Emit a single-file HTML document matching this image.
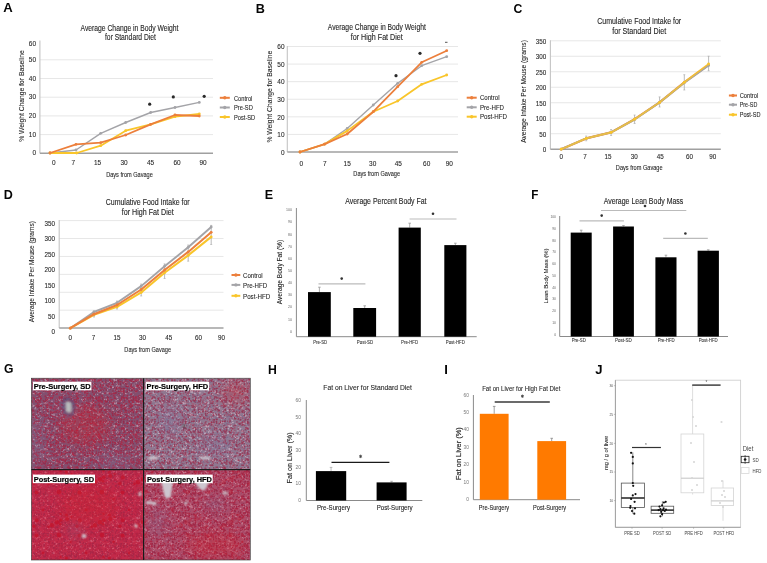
<!DOCTYPE html>
<html><head><meta charset="utf-8"><style>
html,body{margin:0;padding:0;background:#fff;width:767px;height:563px;overflow:hidden}
text{font-family:"Liberation Sans", sans-serif}
</style></head><body>
<svg width="767" height="563" viewBox="0 0 767 563" style="display:block;will-change:transform">
<rect width="767" height="563" fill="#fff"/>
<text transform="translate(3.27 12.40) scale(1.025 1)" font-size="12.79" font-weight="bold" fill="#050505">A</text>
<text x="129.50" y="30.60" font-size="8.86" text-anchor="middle" textLength="98.00" lengthAdjust="spacingAndGlyphs" fill="#262626" stroke="#262626" stroke-width="0.120">Average Change in Body Weight</text>
<text x="130.50" y="39.80" font-size="8.86" text-anchor="middle" textLength="51.00" lengthAdjust="spacingAndGlyphs" fill="#262626" stroke="#262626" stroke-width="0.120">for Standard Diet</text>
<line x1="39.90" y1="134.60" x2="213.00" y2="134.60" stroke="#e4e4e4" stroke-width="0.9"/>
<line x1="39.90" y1="115.90" x2="213.00" y2="115.90" stroke="#e4e4e4" stroke-width="0.9"/>
<line x1="39.90" y1="97.20" x2="213.00" y2="97.20" stroke="#e4e4e4" stroke-width="0.9"/>
<line x1="39.90" y1="78.50" x2="213.00" y2="78.50" stroke="#e4e4e4" stroke-width="0.9"/>
<line x1="39.90" y1="59.80" x2="213.00" y2="59.80" stroke="#e4e4e4" stroke-width="0.9"/>
<line x1="39.90" y1="40.60" x2="39.90" y2="153.30" stroke="#c4c4c4" stroke-width="1.1"/>
<line x1="39.90" y1="153.30" x2="213.00" y2="153.30" stroke="#a0a0a0" stroke-width="1.5"/>
<text x="36.00" y="155.49" font-size="7.42" text-anchor="end" textLength="3.60" lengthAdjust="spacingAndGlyphs" fill="#262626" stroke="#262626" stroke-width="0.096">0</text>
<text x="36.00" y="136.79" font-size="7.42" text-anchor="end" textLength="7.20" lengthAdjust="spacingAndGlyphs" fill="#262626" stroke="#262626" stroke-width="0.096">10</text>
<text x="36.00" y="118.09" font-size="7.42" text-anchor="end" textLength="7.20" lengthAdjust="spacingAndGlyphs" fill="#262626" stroke="#262626" stroke-width="0.096">20</text>
<text x="36.00" y="99.39" font-size="7.42" text-anchor="end" textLength="7.20" lengthAdjust="spacingAndGlyphs" fill="#262626" stroke="#262626" stroke-width="0.096">30</text>
<text x="36.00" y="80.69" font-size="7.42" text-anchor="end" textLength="7.20" lengthAdjust="spacingAndGlyphs" fill="#262626" stroke="#262626" stroke-width="0.096">40</text>
<text x="36.00" y="62.09" font-size="7.42" text-anchor="end" textLength="7.20" lengthAdjust="spacingAndGlyphs" fill="#262626" stroke="#262626" stroke-width="0.096">50</text>
<text x="36.00" y="45.89" font-size="7.42" text-anchor="end" textLength="7.20" lengthAdjust="spacingAndGlyphs" fill="#262626" stroke="#262626" stroke-width="0.096">60</text>
<text x="53.90" y="165.49" font-size="7.42" text-anchor="middle" textLength="3.60" lengthAdjust="spacingAndGlyphs" fill="#262626" stroke="#262626" stroke-width="0.096">0</text>
<text x="73.20" y="165.49" font-size="7.42" text-anchor="middle" textLength="3.60" lengthAdjust="spacingAndGlyphs" fill="#262626" stroke="#262626" stroke-width="0.096">7</text>
<text x="97.50" y="165.49" font-size="7.42" text-anchor="middle" textLength="7.20" lengthAdjust="spacingAndGlyphs" fill="#262626" stroke="#262626" stroke-width="0.096">15</text>
<text x="124.00" y="165.49" font-size="7.42" text-anchor="middle" textLength="7.20" lengthAdjust="spacingAndGlyphs" fill="#262626" stroke="#262626" stroke-width="0.096">30</text>
<text x="150.50" y="165.49" font-size="7.42" text-anchor="middle" textLength="7.20" lengthAdjust="spacingAndGlyphs" fill="#262626" stroke="#262626" stroke-width="0.096">45</text>
<text x="177.00" y="165.49" font-size="7.42" text-anchor="middle" textLength="7.20" lengthAdjust="spacingAndGlyphs" fill="#262626" stroke="#262626" stroke-width="0.096">60</text>
<text x="203.00" y="165.49" font-size="7.42" text-anchor="middle" textLength="7.20" lengthAdjust="spacingAndGlyphs" fill="#262626" stroke="#262626" stroke-width="0.096">90</text>
<polyline points="50.0,153.0 76.0,150.0 100.7,133.3 125.7,122.5 150.7,112.5 175.0,107.5 199.3,102.4" fill="none" stroke="#A4A4A8" stroke-width="1.4" stroke-linejoin="round"/>
<circle cx="50.0" cy="153.0" r="1.4" fill="#A4A4A8"/>
<circle cx="76.0" cy="150.0" r="1.4" fill="#A4A4A8"/>
<circle cx="100.7" cy="133.3" r="1.4" fill="#A4A4A8"/>
<circle cx="125.7" cy="122.5" r="1.4" fill="#A4A4A8"/>
<circle cx="150.7" cy="112.5" r="1.4" fill="#A4A4A8"/>
<circle cx="175.0" cy="107.5" r="1.4" fill="#A4A4A8"/>
<circle cx="199.3" cy="102.4" r="1.4" fill="#A4A4A8"/>
<polyline points="50.0,153.0 76.7,153.0 100.7,145.7 125.7,130.7 150.7,124.3 175.0,116.7 199.3,114.0" fill="none" stroke="#F9C52A" stroke-width="1.8" stroke-linejoin="round"/>
<circle cx="50.0" cy="153.0" r="1.4" fill="#F9C52A"/>
<circle cx="76.7" cy="153.0" r="1.4" fill="#F9C52A"/>
<circle cx="100.7" cy="145.7" r="1.4" fill="#F9C52A"/>
<circle cx="125.7" cy="130.7" r="1.4" fill="#F9C52A"/>
<circle cx="150.7" cy="124.3" r="1.4" fill="#F9C52A"/>
<circle cx="175.0" cy="116.7" r="1.4" fill="#F9C52A"/>
<circle cx="199.3" cy="114.0" r="1.4" fill="#F9C52A"/>
<polyline points="50.0,153.0 76.0,144.3 100.7,142.7 125.7,135.0 150.7,124.3 175.0,115.0 199.3,116.0" fill="none" stroke="#EC7F3C" stroke-width="1.8" stroke-linejoin="round"/>
<circle cx="50.0" cy="153.0" r="1.4" fill="#EC7F3C"/>
<circle cx="76.0" cy="144.3" r="1.4" fill="#EC7F3C"/>
<circle cx="100.7" cy="142.7" r="1.4" fill="#EC7F3C"/>
<circle cx="125.7" cy="135.0" r="1.4" fill="#EC7F3C"/>
<circle cx="150.7" cy="124.3" r="1.4" fill="#EC7F3C"/>
<circle cx="175.0" cy="115.0" r="1.4" fill="#EC7F3C"/>
<circle cx="199.3" cy="116.0" r="1.4" fill="#EC7F3C"/>
<circle cx="149.7" cy="104.2" r="1.6" fill="#2a2a2a"/>
<circle cx="173.3" cy="96.9" r="1.6" fill="#2a2a2a"/>
<circle cx="204.2" cy="96.3" r="1.6" fill="#2a2a2a"/>
<line x1="219.80" y1="97.80" x2="229.80" y2="97.80" stroke="#EC7F3C" stroke-width="2.0"/>
<circle cx="224.8" cy="97.8" r="1.7" fill="#EC7F3C"/>
<text x="234.00" y="100.54" font-size="7.83" textLength="18.40" lengthAdjust="spacingAndGlyphs" fill="#262626" stroke="#262626" stroke-width="0.096">Control</text>
<line x1="219.80" y1="107.50" x2="229.80" y2="107.50" stroke="#A4A4A8" stroke-width="2.0"/>
<circle cx="224.8" cy="107.5" r="1.7" fill="#A4A4A8"/>
<text x="234.00" y="110.24" font-size="7.83" textLength="18.80" lengthAdjust="spacingAndGlyphs" fill="#262626" stroke="#262626" stroke-width="0.096">Pre-SD</text>
<line x1="219.80" y1="117.00" x2="229.80" y2="117.00" stroke="#F9C52A" stroke-width="2.0"/>
<circle cx="224.8" cy="117" r="1.7" fill="#F9C52A"/>
<text x="234.00" y="119.74" font-size="7.83" textLength="21.20" lengthAdjust="spacingAndGlyphs" fill="#262626" stroke="#262626" stroke-width="0.096">Post-SD</text>
<text x="129.50" y="176.90" font-size="7.42" text-anchor="middle" textLength="46.70" lengthAdjust="spacingAndGlyphs" fill="#262626" stroke="#262626" stroke-width="0.096">Days from Gavage</text>
<text x="24.30" y="96.00" font-size="7.21" text-anchor="middle" textLength="91.70" lengthAdjust="spacingAndGlyphs" transform="rotate(-90 24.3 96)" fill="#262626" stroke="#262626" stroke-width="0.096">% Weight Change for Baseline</text>
<text transform="translate(255.75 12.50) scale(0.987 1)" font-size="12.79" font-weight="bold" fill="#050505">B</text>
<text x="376.80" y="29.70" font-size="8.86" text-anchor="middle" textLength="98.00" lengthAdjust="spacingAndGlyphs" fill="#262626" stroke="#262626" stroke-width="0.120">Average Change in Body Weight</text>
<text x="376.80" y="40.00" font-size="8.86" text-anchor="middle" textLength="52.00" lengthAdjust="spacingAndGlyphs" fill="#262626" stroke="#262626" stroke-width="0.120">for High Fat Diet</text>
<line x1="287.30" y1="134.42" x2="458.00" y2="134.42" stroke="#e4e4e4" stroke-width="0.9"/>
<line x1="287.30" y1="116.83" x2="458.00" y2="116.83" stroke="#e4e4e4" stroke-width="0.9"/>
<line x1="287.30" y1="99.25" x2="458.00" y2="99.25" stroke="#e4e4e4" stroke-width="0.9"/>
<line x1="287.30" y1="81.67" x2="458.00" y2="81.67" stroke="#e4e4e4" stroke-width="0.9"/>
<line x1="287.30" y1="64.08" x2="458.00" y2="64.08" stroke="#e4e4e4" stroke-width="0.9"/>
<line x1="287.30" y1="46.50" x2="458.00" y2="46.50" stroke="#e4e4e4" stroke-width="0.9"/>
<line x1="287.30" y1="46.00" x2="287.30" y2="152.00" stroke="#c4c4c4" stroke-width="1.1"/>
<line x1="287.30" y1="152.00" x2="458.00" y2="152.00" stroke="#a0a0a0" stroke-width="1.5"/>
<text x="284.50" y="154.89" font-size="7.42" text-anchor="end" textLength="3.60" lengthAdjust="spacingAndGlyphs" fill="#262626" stroke="#262626" stroke-width="0.096">0</text>
<text x="284.50" y="137.26" font-size="7.42" text-anchor="end" textLength="7.20" lengthAdjust="spacingAndGlyphs" fill="#262626" stroke="#262626" stroke-width="0.096">10</text>
<text x="284.50" y="119.63" font-size="7.42" text-anchor="end" textLength="7.20" lengthAdjust="spacingAndGlyphs" fill="#262626" stroke="#262626" stroke-width="0.096">20</text>
<text x="284.50" y="101.99" font-size="7.42" text-anchor="end" textLength="7.20" lengthAdjust="spacingAndGlyphs" fill="#262626" stroke="#262626" stroke-width="0.096">30</text>
<text x="284.50" y="84.36" font-size="7.42" text-anchor="end" textLength="7.20" lengthAdjust="spacingAndGlyphs" fill="#262626" stroke="#262626" stroke-width="0.096">40</text>
<text x="284.50" y="66.73" font-size="7.42" text-anchor="end" textLength="7.20" lengthAdjust="spacingAndGlyphs" fill="#262626" stroke="#262626" stroke-width="0.096">50</text>
<text x="284.50" y="49.09" font-size="7.42" text-anchor="end" textLength="7.20" lengthAdjust="spacingAndGlyphs" fill="#262626" stroke="#262626" stroke-width="0.096">60</text>
<text x="301.20" y="165.89" font-size="7.42" text-anchor="middle" textLength="3.60" lengthAdjust="spacingAndGlyphs" fill="#262626" stroke="#262626" stroke-width="0.096">0</text>
<text x="324.70" y="165.89" font-size="7.42" text-anchor="middle" textLength="3.60" lengthAdjust="spacingAndGlyphs" fill="#262626" stroke="#262626" stroke-width="0.096">7</text>
<text x="347.20" y="165.89" font-size="7.42" text-anchor="middle" textLength="7.20" lengthAdjust="spacingAndGlyphs" fill="#262626" stroke="#262626" stroke-width="0.096">15</text>
<text x="372.70" y="165.89" font-size="7.42" text-anchor="middle" textLength="7.20" lengthAdjust="spacingAndGlyphs" fill="#262626" stroke="#262626" stroke-width="0.096">30</text>
<text x="398.30" y="165.89" font-size="7.42" text-anchor="middle" textLength="7.20" lengthAdjust="spacingAndGlyphs" fill="#262626" stroke="#262626" stroke-width="0.096">45</text>
<text x="426.70" y="165.89" font-size="7.42" text-anchor="middle" textLength="7.20" lengthAdjust="spacingAndGlyphs" fill="#262626" stroke="#262626" stroke-width="0.096">60</text>
<text x="449.30" y="165.89" font-size="7.42" text-anchor="middle" textLength="7.20" lengthAdjust="spacingAndGlyphs" fill="#262626" stroke="#262626" stroke-width="0.096">90</text>
<polyline points="300.0,152.0 324.7,144.1 347.2,128.5 373.3,105.0 397.7,83.3 421.7,65.7 446.7,56.7" fill="none" stroke="#A4A4A8" stroke-width="1.4" stroke-linejoin="round"/>
<circle cx="300.0" cy="152.0" r="1.4" fill="#A4A4A8"/>
<circle cx="324.7" cy="144.1" r="1.4" fill="#A4A4A8"/>
<circle cx="347.2" cy="128.5" r="1.4" fill="#A4A4A8"/>
<circle cx="373.3" cy="105.0" r="1.4" fill="#A4A4A8"/>
<circle cx="397.7" cy="83.3" r="1.4" fill="#A4A4A8"/>
<circle cx="421.7" cy="65.7" r="1.4" fill="#A4A4A8"/>
<circle cx="446.7" cy="56.7" r="1.4" fill="#A4A4A8"/>
<polyline points="300.0,152.0 324.7,144.1 347.2,130.9 373.3,111.7 397.7,101.0 421.7,84.3 446.7,75.0" fill="none" stroke="#F9C52A" stroke-width="1.8" stroke-linejoin="round"/>
<circle cx="300.0" cy="152.0" r="1.4" fill="#F9C52A"/>
<circle cx="324.7" cy="144.1" r="1.4" fill="#F9C52A"/>
<circle cx="347.2" cy="130.9" r="1.4" fill="#F9C52A"/>
<circle cx="373.3" cy="111.7" r="1.4" fill="#F9C52A"/>
<circle cx="397.7" cy="101.0" r="1.4" fill="#F9C52A"/>
<circle cx="421.7" cy="84.3" r="1.4" fill="#F9C52A"/>
<circle cx="446.7" cy="75.0" r="1.4" fill="#F9C52A"/>
<polyline points="300.0,152.0 324.7,144.1 347.2,134.0 373.3,111.7 397.7,86.7 421.7,62.3 446.7,50.7" fill="none" stroke="#EC7F3C" stroke-width="1.8" stroke-linejoin="round"/>
<circle cx="300.0" cy="152.0" r="1.4" fill="#EC7F3C"/>
<circle cx="324.7" cy="144.1" r="1.4" fill="#EC7F3C"/>
<circle cx="347.2" cy="134.0" r="1.4" fill="#EC7F3C"/>
<circle cx="373.3" cy="111.7" r="1.4" fill="#EC7F3C"/>
<circle cx="397.7" cy="86.7" r="1.4" fill="#EC7F3C"/>
<circle cx="421.7" cy="62.3" r="1.4" fill="#EC7F3C"/>
<circle cx="446.7" cy="50.7" r="1.4" fill="#EC7F3C"/>
<circle cx="396" cy="75.7" r="1.6" fill="#2a2a2a"/>
<circle cx="420" cy="53.3" r="1.6" fill="#2a2a2a"/>
<line x1="466.70" y1="97.70" x2="476.70" y2="97.70" stroke="#EC7F3C" stroke-width="2.0"/>
<circle cx="471.7" cy="97.7" r="1.7" fill="#EC7F3C"/>
<text x="480.00" y="100.44" font-size="7.83" textLength="19.50" lengthAdjust="spacingAndGlyphs" fill="#262626" stroke="#262626" stroke-width="0.096">Control</text>
<line x1="466.70" y1="107.30" x2="476.70" y2="107.30" stroke="#A4A4A8" stroke-width="2.0"/>
<circle cx="471.7" cy="107.3" r="1.7" fill="#A4A4A8"/>
<text x="480.00" y="110.04" font-size="7.83" textLength="24.00" lengthAdjust="spacingAndGlyphs" fill="#262626" stroke="#262626" stroke-width="0.096">Pre-HFD</text>
<line x1="466.70" y1="116.70" x2="476.70" y2="116.70" stroke="#F9C52A" stroke-width="2.0"/>
<circle cx="471.7" cy="116.7" r="1.7" fill="#F9C52A"/>
<text x="480.00" y="119.44" font-size="7.83" textLength="27.00" lengthAdjust="spacingAndGlyphs" fill="#262626" stroke="#262626" stroke-width="0.096">Post-HFD</text>
<line x1="445.00" y1="42.30" x2="447.50" y2="42.30" stroke="#555" stroke-width="1"/>
<text x="376.70" y="176.40" font-size="7.42" text-anchor="middle" textLength="46.70" lengthAdjust="spacingAndGlyphs" fill="#262626" stroke="#262626" stroke-width="0.096">Days from Gavage</text>
<text x="272.40" y="96.70" font-size="7.21" text-anchor="middle" textLength="91.70" lengthAdjust="spacingAndGlyphs" transform="rotate(-90 272.4 96.7)" fill="#262626" stroke="#262626" stroke-width="0.096">% Weight Change for Baseline</text>
<text transform="translate(513.40 12.57) scale(0.918 1)" font-size="13.32" font-weight="bold" fill="#050505">C</text>
<text x="639.20" y="23.90" font-size="8.65" text-anchor="middle" textLength="84.00" lengthAdjust="spacingAndGlyphs" fill="#262626" stroke="#262626" stroke-width="0.120">Cumulative Food Intake for</text>
<text x="639.20" y="33.60" font-size="8.65" text-anchor="middle" textLength="54.00" lengthAdjust="spacingAndGlyphs" fill="#262626" stroke="#262626" stroke-width="0.120">for Standard Diet</text>
<line x1="550.40" y1="133.71" x2="720.80" y2="133.71" stroke="#e4e4e4" stroke-width="0.9"/>
<line x1="550.40" y1="118.23" x2="720.80" y2="118.23" stroke="#e4e4e4" stroke-width="0.9"/>
<line x1="550.40" y1="102.74" x2="720.80" y2="102.74" stroke="#e4e4e4" stroke-width="0.9"/>
<line x1="550.40" y1="87.26" x2="720.80" y2="87.26" stroke="#e4e4e4" stroke-width="0.9"/>
<line x1="550.40" y1="71.77" x2="720.80" y2="71.77" stroke="#e4e4e4" stroke-width="0.9"/>
<line x1="550.40" y1="56.29" x2="720.80" y2="56.29" stroke="#e4e4e4" stroke-width="0.9"/>
<line x1="550.40" y1="40.80" x2="720.80" y2="40.80" stroke="#e4e4e4" stroke-width="0.9"/>
<line x1="550.40" y1="40.30" x2="550.40" y2="149.20" stroke="#c4c4c4" stroke-width="1.1"/>
<line x1="550.40" y1="149.20" x2="720.80" y2="149.20" stroke="#a0a0a0" stroke-width="1.5"/>
<text x="546.30" y="152.22" font-size="7.21" text-anchor="end" textLength="3.50" lengthAdjust="spacingAndGlyphs" fill="#262626" stroke="#262626" stroke-width="0.096">0</text>
<text x="546.30" y="136.69" font-size="7.21" text-anchor="end" textLength="7.00" lengthAdjust="spacingAndGlyphs" fill="#262626" stroke="#262626" stroke-width="0.096">50</text>
<text x="546.30" y="121.16" font-size="7.21" text-anchor="end" textLength="10.50" lengthAdjust="spacingAndGlyphs" fill="#262626" stroke="#262626" stroke-width="0.096">100</text>
<text x="546.30" y="105.63" font-size="7.21" text-anchor="end" textLength="10.50" lengthAdjust="spacingAndGlyphs" fill="#262626" stroke="#262626" stroke-width="0.096">150</text>
<text x="546.30" y="90.11" font-size="7.21" text-anchor="end" textLength="10.50" lengthAdjust="spacingAndGlyphs" fill="#262626" stroke="#262626" stroke-width="0.096">200</text>
<text x="546.30" y="74.58" font-size="7.21" text-anchor="end" textLength="10.50" lengthAdjust="spacingAndGlyphs" fill="#262626" stroke="#262626" stroke-width="0.096">250</text>
<text x="546.30" y="59.05" font-size="7.21" text-anchor="end" textLength="10.50" lengthAdjust="spacingAndGlyphs" fill="#262626" stroke="#262626" stroke-width="0.096">300</text>
<text x="546.30" y="43.52" font-size="7.21" text-anchor="end" textLength="10.50" lengthAdjust="spacingAndGlyphs" fill="#262626" stroke="#262626" stroke-width="0.096">350</text>
<text x="561.20" y="159.12" font-size="7.21" text-anchor="middle" textLength="3.50" lengthAdjust="spacingAndGlyphs" fill="#262626" stroke="#262626" stroke-width="0.096">0</text>
<text x="585.00" y="159.12" font-size="7.21" text-anchor="middle" textLength="3.50" lengthAdjust="spacingAndGlyphs" fill="#262626" stroke="#262626" stroke-width="0.096">7</text>
<text x="608.00" y="159.12" font-size="7.21" text-anchor="middle" textLength="7.00" lengthAdjust="spacingAndGlyphs" fill="#262626" stroke="#262626" stroke-width="0.096">15</text>
<text x="634.20" y="159.12" font-size="7.21" text-anchor="middle" textLength="7.00" lengthAdjust="spacingAndGlyphs" fill="#262626" stroke="#262626" stroke-width="0.096">30</text>
<text x="660.30" y="159.12" font-size="7.21" text-anchor="middle" textLength="7.00" lengthAdjust="spacingAndGlyphs" fill="#262626" stroke="#262626" stroke-width="0.096">45</text>
<text x="689.60" y="159.12" font-size="7.21" text-anchor="middle" textLength="7.00" lengthAdjust="spacingAndGlyphs" fill="#262626" stroke="#262626" stroke-width="0.096">60</text>
<text x="712.70" y="159.12" font-size="7.21" text-anchor="middle" textLength="7.00" lengthAdjust="spacingAndGlyphs" fill="#262626" stroke="#262626" stroke-width="0.096">90</text>
<line x1="586.20" y1="136.00" x2="586.20" y2="140.80" stroke="#a8a8a8" stroke-width="0.8"/>
<line x1="585.20" y1="136.00" x2="587.20" y2="136.00" stroke="#a8a8a8" stroke-width="0.6"/>
<line x1="585.20" y1="140.80" x2="587.20" y2="140.80" stroke="#a8a8a8" stroke-width="0.6"/>
<line x1="611.10" y1="129.50" x2="611.10" y2="135.50" stroke="#a8a8a8" stroke-width="0.8"/>
<line x1="610.10" y1="129.50" x2="612.10" y2="129.50" stroke="#a8a8a8" stroke-width="0.6"/>
<line x1="610.10" y1="135.50" x2="612.10" y2="135.50" stroke="#a8a8a8" stroke-width="0.6"/>
<line x1="634.60" y1="115.00" x2="634.60" y2="123.50" stroke="#a8a8a8" stroke-width="0.8"/>
<line x1="633.60" y1="115.00" x2="635.60" y2="115.00" stroke="#a8a8a8" stroke-width="0.6"/>
<line x1="633.60" y1="123.50" x2="635.60" y2="123.50" stroke="#a8a8a8" stroke-width="0.6"/>
<line x1="659.60" y1="96.90" x2="659.60" y2="107.00" stroke="#a8a8a8" stroke-width="0.8"/>
<line x1="658.60" y1="96.90" x2="660.60" y2="96.90" stroke="#a8a8a8" stroke-width="0.6"/>
<line x1="658.60" y1="107.00" x2="660.60" y2="107.00" stroke="#a8a8a8" stroke-width="0.6"/>
<line x1="684.30" y1="74.70" x2="684.30" y2="90.00" stroke="#a8a8a8" stroke-width="0.8"/>
<line x1="683.30" y1="74.70" x2="685.30" y2="74.70" stroke="#a8a8a8" stroke-width="0.6"/>
<line x1="683.30" y1="90.00" x2="685.30" y2="90.00" stroke="#a8a8a8" stroke-width="0.6"/>
<line x1="708.60" y1="56.20" x2="708.60" y2="70.80" stroke="#a8a8a8" stroke-width="0.8"/>
<line x1="707.60" y1="56.20" x2="709.60" y2="56.20" stroke="#a8a8a8" stroke-width="0.6"/>
<line x1="707.60" y1="70.80" x2="709.60" y2="70.80" stroke="#a8a8a8" stroke-width="0.6"/>
<polyline points="561.2,149.2 586.2,138.4 611.1,132.4 634.6,119.2 659.6,102.4 684.3,82.3 708.6,64.9" fill="none" stroke="#EC7F3C" stroke-width="2.2" stroke-linejoin="round"/>
<circle cx="561.2" cy="149.2" r="1.4" fill="#EC7F3C"/>
<circle cx="586.2" cy="138.4" r="1.4" fill="#EC7F3C"/>
<circle cx="611.1" cy="132.4" r="1.4" fill="#EC7F3C"/>
<circle cx="634.6" cy="119.2" r="1.4" fill="#EC7F3C"/>
<circle cx="659.6" cy="102.4" r="1.4" fill="#EC7F3C"/>
<circle cx="684.3" cy="82.3" r="1.4" fill="#EC7F3C"/>
<circle cx="708.6" cy="64.9" r="1.4" fill="#EC7F3C"/>
<polyline points="561.2,149.2 586.2,138.4 611.1,132.4 634.6,119.5 659.6,102.4 684.3,82.8 708.6,65.5" fill="none" stroke="#A4A4A8" stroke-width="2.0" stroke-linejoin="round"/>
<circle cx="561.2" cy="149.2" r="1.4" fill="#A4A4A8"/>
<circle cx="586.2" cy="138.4" r="1.4" fill="#A4A4A8"/>
<circle cx="611.1" cy="132.4" r="1.4" fill="#A4A4A8"/>
<circle cx="634.6" cy="119.5" r="1.4" fill="#A4A4A8"/>
<circle cx="659.6" cy="102.4" r="1.4" fill="#A4A4A8"/>
<circle cx="684.3" cy="82.8" r="1.4" fill="#A4A4A8"/>
<circle cx="708.6" cy="65.5" r="1.4" fill="#A4A4A8"/>
<polyline points="561.2,149.2 586.2,138.4 611.1,132.4 634.6,119.2 659.6,102.4 684.3,82.3 708.6,63.9" fill="none" stroke="#F9C52A" stroke-width="1.7" stroke-linejoin="round" opacity="0.8"/>
<circle cx="561.2" cy="149.2" r="1.4" fill="#F9C52A"/>
<circle cx="586.2" cy="138.4" r="1.4" fill="#F9C52A"/>
<circle cx="611.1" cy="132.4" r="1.4" fill="#F9C52A"/>
<circle cx="634.6" cy="119.2" r="1.4" fill="#F9C52A"/>
<circle cx="659.6" cy="102.4" r="1.4" fill="#F9C52A"/>
<circle cx="684.3" cy="82.3" r="1.4" fill="#F9C52A"/>
<circle cx="708.6" cy="63.9" r="1.4" fill="#F9C52A"/>
<line x1="728.90" y1="95.50" x2="737.00" y2="95.50" stroke="#EC7F3C" stroke-width="2.0"/>
<circle cx="733.0" cy="95.5" r="1.7" fill="#EC7F3C"/>
<text x="739.70" y="98.16" font-size="7.62" textLength="18.50" lengthAdjust="spacingAndGlyphs" fill="#262626" stroke="#262626" stroke-width="0.096">Control</text>
<line x1="728.90" y1="104.70" x2="737.00" y2="104.70" stroke="#A4A4A8" stroke-width="2.0"/>
<circle cx="733.0" cy="104.7" r="1.7" fill="#A4A4A8"/>
<text x="739.70" y="107.36" font-size="7.62" textLength="17.60" lengthAdjust="spacingAndGlyphs" fill="#262626" stroke="#262626" stroke-width="0.096">Pre-SD</text>
<line x1="728.90" y1="114.70" x2="737.00" y2="114.70" stroke="#F9C52A" stroke-width="2.0"/>
<circle cx="733.0" cy="114.7" r="1.7" fill="#F9C52A"/>
<text x="739.70" y="117.36" font-size="7.62" textLength="20.80" lengthAdjust="spacingAndGlyphs" fill="#262626" stroke="#262626" stroke-width="0.096">Post-SD</text>
<text x="639.20" y="170.20" font-size="7.42" text-anchor="middle" textLength="46.70" lengthAdjust="spacingAndGlyphs" fill="#262626" stroke="#262626" stroke-width="0.096">Days from Gavage</text>
<text x="526.20" y="91.50" font-size="7.21" text-anchor="middle" textLength="102.70" lengthAdjust="spacingAndGlyphs" transform="rotate(-90 526.2 91.5)" fill="#262626" stroke="#262626" stroke-width="0.096">Average Intake Per Mouse (grams)</text>
<text transform="translate(3.66 198.50) scale(0.982 1)" font-size="12.79" font-weight="bold" fill="#050505">D</text>
<text x="147.70" y="205.30" font-size="8.65" text-anchor="middle" textLength="84.00" lengthAdjust="spacingAndGlyphs" fill="#262626" stroke="#262626" stroke-width="0.120">Cumulative Food Intake for</text>
<text x="147.70" y="214.70" font-size="8.65" text-anchor="middle" textLength="52.00" lengthAdjust="spacingAndGlyphs" fill="#262626" stroke="#262626" stroke-width="0.120">for High Fat Diet</text>
<line x1="59.20" y1="310.18" x2="223.50" y2="310.18" stroke="#e4e4e4" stroke-width="0.9"/>
<line x1="59.20" y1="292.27" x2="223.50" y2="292.27" stroke="#e4e4e4" stroke-width="0.9"/>
<line x1="59.20" y1="274.35" x2="223.50" y2="274.35" stroke="#e4e4e4" stroke-width="0.9"/>
<line x1="59.20" y1="256.43" x2="223.50" y2="256.43" stroke="#e4e4e4" stroke-width="0.9"/>
<line x1="59.20" y1="238.52" x2="223.50" y2="238.52" stroke="#e4e4e4" stroke-width="0.9"/>
<line x1="59.20" y1="220.60" x2="223.50" y2="220.60" stroke="#e4e4e4" stroke-width="0.9"/>
<line x1="59.20" y1="220.10" x2="59.20" y2="328.10" stroke="#c4c4c4" stroke-width="1.1"/>
<line x1="59.20" y1="328.10" x2="223.50" y2="328.10" stroke="#a0a0a0" stroke-width="1.5"/>
<text x="55.00" y="334.02" font-size="7.21" text-anchor="end" textLength="3.50" lengthAdjust="spacingAndGlyphs" fill="#262626" stroke="#262626" stroke-width="0.096">0</text>
<text x="55.00" y="318.53" font-size="7.21" text-anchor="end" textLength="7.00" lengthAdjust="spacingAndGlyphs" fill="#262626" stroke="#262626" stroke-width="0.096">50</text>
<text x="55.00" y="303.05" font-size="7.21" text-anchor="end" textLength="10.50" lengthAdjust="spacingAndGlyphs" fill="#262626" stroke="#262626" stroke-width="0.096">100</text>
<text x="55.00" y="287.56" font-size="7.21" text-anchor="end" textLength="10.50" lengthAdjust="spacingAndGlyphs" fill="#262626" stroke="#262626" stroke-width="0.096">150</text>
<text x="55.00" y="272.08" font-size="7.21" text-anchor="end" textLength="10.50" lengthAdjust="spacingAndGlyphs" fill="#262626" stroke="#262626" stroke-width="0.096">200</text>
<text x="55.00" y="256.59" font-size="7.21" text-anchor="end" textLength="10.50" lengthAdjust="spacingAndGlyphs" fill="#262626" stroke="#262626" stroke-width="0.096">250</text>
<text x="55.00" y="241.11" font-size="7.21" text-anchor="end" textLength="10.50" lengthAdjust="spacingAndGlyphs" fill="#262626" stroke="#262626" stroke-width="0.096">300</text>
<text x="55.00" y="225.62" font-size="7.21" text-anchor="end" textLength="10.50" lengthAdjust="spacingAndGlyphs" fill="#262626" stroke="#262626" stroke-width="0.096">350</text>
<text x="70.30" y="339.92" font-size="7.21" text-anchor="middle" textLength="3.50" lengthAdjust="spacingAndGlyphs" fill="#262626" stroke="#262626" stroke-width="0.096">0</text>
<text x="93.40" y="339.92" font-size="7.21" text-anchor="middle" textLength="3.50" lengthAdjust="spacingAndGlyphs" fill="#262626" stroke="#262626" stroke-width="0.096">7</text>
<text x="117.00" y="339.92" font-size="7.21" text-anchor="middle" textLength="7.00" lengthAdjust="spacingAndGlyphs" fill="#262626" stroke="#262626" stroke-width="0.096">15</text>
<text x="142.50" y="339.92" font-size="7.21" text-anchor="middle" textLength="7.00" lengthAdjust="spacingAndGlyphs" fill="#262626" stroke="#262626" stroke-width="0.096">30</text>
<text x="168.80" y="339.92" font-size="7.21" text-anchor="middle" textLength="7.00" lengthAdjust="spacingAndGlyphs" fill="#262626" stroke="#262626" stroke-width="0.096">45</text>
<text x="198.50" y="339.92" font-size="7.21" text-anchor="middle" textLength="7.00" lengthAdjust="spacingAndGlyphs" fill="#262626" stroke="#262626" stroke-width="0.096">60</text>
<text x="221.60" y="339.92" font-size="7.21" text-anchor="middle" textLength="7.00" lengthAdjust="spacingAndGlyphs" fill="#262626" stroke="#262626" stroke-width="0.096">90</text>
<line x1="94.00" y1="311.00" x2="94.00" y2="317.00" stroke="#a8a8a8" stroke-width="0.8"/>
<line x1="93.00" y1="311.00" x2="95.00" y2="311.00" stroke="#a8a8a8" stroke-width="0.6"/>
<line x1="93.00" y1="317.00" x2="95.00" y2="317.00" stroke="#a8a8a8" stroke-width="0.6"/>
<line x1="117.00" y1="301.00" x2="117.00" y2="309.00" stroke="#a8a8a8" stroke-width="0.8"/>
<line x1="116.00" y1="301.00" x2="118.00" y2="301.00" stroke="#a8a8a8" stroke-width="0.6"/>
<line x1="116.00" y1="309.00" x2="118.00" y2="309.00" stroke="#a8a8a8" stroke-width="0.6"/>
<line x1="141.20" y1="284.00" x2="141.20" y2="296.00" stroke="#a8a8a8" stroke-width="0.8"/>
<line x1="140.20" y1="284.00" x2="142.20" y2="284.00" stroke="#a8a8a8" stroke-width="0.6"/>
<line x1="140.20" y1="296.00" x2="142.20" y2="296.00" stroke="#a8a8a8" stroke-width="0.6"/>
<line x1="164.60" y1="263.90" x2="164.60" y2="278.50" stroke="#a8a8a8" stroke-width="0.8"/>
<line x1="163.60" y1="263.90" x2="165.60" y2="263.90" stroke="#a8a8a8" stroke-width="0.6"/>
<line x1="163.60" y1="278.50" x2="165.60" y2="278.50" stroke="#a8a8a8" stroke-width="0.6"/>
<line x1="188.20" y1="245.00" x2="188.20" y2="261.20" stroke="#a8a8a8" stroke-width="0.8"/>
<line x1="187.20" y1="245.00" x2="189.20" y2="245.00" stroke="#a8a8a8" stroke-width="0.6"/>
<line x1="187.20" y1="261.20" x2="189.20" y2="261.20" stroke="#a8a8a8" stroke-width="0.6"/>
<line x1="211.20" y1="225.40" x2="211.20" y2="244.50" stroke="#a8a8a8" stroke-width="0.8"/>
<line x1="210.20" y1="225.40" x2="212.20" y2="225.40" stroke="#a8a8a8" stroke-width="0.6"/>
<line x1="210.20" y1="244.50" x2="212.20" y2="244.50" stroke="#a8a8a8" stroke-width="0.6"/>
<polyline points="70.3,328.2 93.9,312.0 117.0,302.8 141.2,286.1 164.6,266.2 188.2,247.3 211.2,227.0" fill="none" stroke="#A4A4A8" stroke-width="1.9" stroke-linejoin="round"/>
<circle cx="70.3" cy="328.2" r="1.4" fill="#A4A4A8"/>
<circle cx="93.9" cy="312.0" r="1.4" fill="#A4A4A8"/>
<circle cx="117.0" cy="302.8" r="1.4" fill="#A4A4A8"/>
<circle cx="141.2" cy="286.1" r="1.4" fill="#A4A4A8"/>
<circle cx="164.6" cy="266.2" r="1.4" fill="#A4A4A8"/>
<circle cx="188.2" cy="247.3" r="1.4" fill="#A4A4A8"/>
<circle cx="211.2" cy="227.0" r="1.4" fill="#A4A4A8"/>
<polyline points="70.3,328.2 93.9,314.8 117.0,306.9 141.2,292.4 164.6,272.7 188.2,255.4 211.2,236.9" fill="none" stroke="#F9C52A" stroke-width="2.0" stroke-linejoin="round"/>
<circle cx="70.3" cy="328.2" r="1.4" fill="#F9C52A"/>
<circle cx="93.9" cy="314.8" r="1.4" fill="#F9C52A"/>
<circle cx="117.0" cy="306.9" r="1.4" fill="#F9C52A"/>
<circle cx="141.2" cy="292.4" r="1.4" fill="#F9C52A"/>
<circle cx="164.6" cy="272.7" r="1.4" fill="#F9C52A"/>
<circle cx="188.2" cy="255.4" r="1.4" fill="#F9C52A"/>
<circle cx="211.2" cy="236.9" r="1.4" fill="#F9C52A"/>
<polyline points="70.3,328.2 93.9,314.2 117.0,305.0 141.2,289.5 164.6,270.0 188.2,251.9 211.2,232.3" fill="none" stroke="#EC7F3C" stroke-width="2.0" stroke-linejoin="round"/>
<circle cx="70.3" cy="328.2" r="1.4" fill="#EC7F3C"/>
<circle cx="93.9" cy="314.2" r="1.4" fill="#EC7F3C"/>
<circle cx="117.0" cy="305.0" r="1.4" fill="#EC7F3C"/>
<circle cx="141.2" cy="289.5" r="1.4" fill="#EC7F3C"/>
<circle cx="164.6" cy="270.0" r="1.4" fill="#EC7F3C"/>
<circle cx="188.2" cy="251.9" r="1.4" fill="#EC7F3C"/>
<circle cx="211.2" cy="232.3" r="1.4" fill="#EC7F3C"/>
<line x1="231.50" y1="275.00" x2="240.30" y2="275.00" stroke="#EC7F3C" stroke-width="2.0"/>
<circle cx="235.9" cy="275" r="1.7" fill="#EC7F3C"/>
<text x="243.10" y="277.74" font-size="7.83" textLength="19.50" lengthAdjust="spacingAndGlyphs" fill="#262626" stroke="#262626" stroke-width="0.096">Control</text>
<line x1="231.50" y1="284.90" x2="240.30" y2="284.90" stroke="#A4A4A8" stroke-width="2.0"/>
<circle cx="235.9" cy="284.9" r="1.7" fill="#A4A4A8"/>
<text x="243.10" y="287.64" font-size="7.83" textLength="24.00" lengthAdjust="spacingAndGlyphs" fill="#262626" stroke="#262626" stroke-width="0.096">Pre-HFD</text>
<line x1="231.50" y1="295.80" x2="240.30" y2="295.80" stroke="#F9C52A" stroke-width="2.0"/>
<circle cx="235.9" cy="295.8" r="1.7" fill="#F9C52A"/>
<text x="243.10" y="298.54" font-size="7.83" textLength="27.00" lengthAdjust="spacingAndGlyphs" fill="#262626" stroke="#262626" stroke-width="0.096">Post-HFD</text>
<text x="147.70" y="351.50" font-size="7.42" text-anchor="middle" textLength="46.70" lengthAdjust="spacingAndGlyphs" fill="#262626" stroke="#262626" stroke-width="0.096">Days from Gavage</text>
<text x="34.00" y="271.70" font-size="7.21" text-anchor="middle" textLength="101.00" lengthAdjust="spacingAndGlyphs" transform="rotate(-90 34.0 271.7)" fill="#262626" stroke="#262626" stroke-width="0.096">Average Intake Per Mouse (grams)</text>
<text transform="translate(264.66 198.50) scale(0.954 1)" font-size="13.08" font-weight="bold" fill="#050505">E</text>
<text x="385.90" y="203.70" font-size="8.86" text-anchor="middle" textLength="81.30" lengthAdjust="spacingAndGlyphs" fill="#262626" stroke="#262626" stroke-width="0.120">Average Percent Body Fat</text>
<line x1="296.40" y1="208.00" x2="296.40" y2="336.70" stroke="#8a8a8a" stroke-width="1.0"/>
<line x1="296.40" y1="336.70" x2="476.70" y2="336.70" stroke="#8a8a8a" stroke-width="1.0"/>
<text x="292.00" y="332.80" font-size="3.71" text-anchor="end" textLength="1.98" lengthAdjust="spacingAndGlyphs" fill="#666">0</text>
<text x="292.00" y="320.64" font-size="3.71" text-anchor="end" textLength="3.96" lengthAdjust="spacingAndGlyphs" fill="#666">10</text>
<text x="292.00" y="308.48" font-size="3.71" text-anchor="end" textLength="3.96" lengthAdjust="spacingAndGlyphs" fill="#666">20</text>
<text x="292.00" y="296.32" font-size="3.71" text-anchor="end" textLength="3.96" lengthAdjust="spacingAndGlyphs" fill="#666">30</text>
<text x="292.00" y="284.16" font-size="3.71" text-anchor="end" textLength="3.96" lengthAdjust="spacingAndGlyphs" fill="#666">40</text>
<text x="292.00" y="272.00" font-size="3.71" text-anchor="end" textLength="3.96" lengthAdjust="spacingAndGlyphs" fill="#666">50</text>
<text x="292.00" y="259.84" font-size="3.71" text-anchor="end" textLength="3.96" lengthAdjust="spacingAndGlyphs" fill="#666">60</text>
<text x="292.00" y="247.68" font-size="3.71" text-anchor="end" textLength="3.96" lengthAdjust="spacingAndGlyphs" fill="#666">70</text>
<text x="292.00" y="235.52" font-size="3.71" text-anchor="end" textLength="3.96" lengthAdjust="spacingAndGlyphs" fill="#666">80</text>
<text x="292.00" y="223.36" font-size="3.71" text-anchor="end" textLength="3.96" lengthAdjust="spacingAndGlyphs" fill="#666">90</text>
<text x="292.00" y="211.20" font-size="3.71" text-anchor="end" textLength="5.94" lengthAdjust="spacingAndGlyphs" fill="#666">100</text>
<line x1="319.40" y1="287.20" x2="319.40" y2="292.10" stroke="#999" stroke-width="0.8"/>
<line x1="318.10" y1="287.20" x2="320.70" y2="287.20" stroke="#999" stroke-width="0.8"/>
<rect x="308.00" y="292.10" width="22.80" height="44.60" fill="#000"/>
<text x="320.10" y="344.33" font-size="4.94" text-anchor="middle" textLength="13.80" lengthAdjust="spacingAndGlyphs" fill="#333" stroke="#333" stroke-width="0.080">Pre-SD</text>
<line x1="364.70" y1="305.80" x2="364.70" y2="308.00" stroke="#999" stroke-width="0.8"/>
<line x1="363.40" y1="305.80" x2="366.00" y2="305.80" stroke="#999" stroke-width="0.8"/>
<rect x="353.30" y="308.00" width="22.80" height="28.70" fill="#000"/>
<text x="365.00" y="344.33" font-size="4.94" text-anchor="middle" textLength="16.30" lengthAdjust="spacingAndGlyphs" fill="#333" stroke="#333" stroke-width="0.080">Post-SD</text>
<line x1="409.70" y1="223.20" x2="409.70" y2="227.60" stroke="#999" stroke-width="0.8"/>
<line x1="408.40" y1="223.20" x2="411.00" y2="223.20" stroke="#999" stroke-width="0.8"/>
<rect x="398.60" y="227.60" width="22.20" height="109.10" fill="#000"/>
<text x="409.60" y="344.33" font-size="4.94" text-anchor="middle" textLength="17.00" lengthAdjust="spacingAndGlyphs" fill="#333" stroke="#333" stroke-width="0.080">Pre-HFD</text>
<line x1="455.35" y1="243.20" x2="455.35" y2="245.10" stroke="#999" stroke-width="0.8"/>
<line x1="454.05" y1="243.20" x2="456.65" y2="243.20" stroke="#999" stroke-width="0.8"/>
<rect x="444.30" y="245.10" width="22.10" height="91.60" fill="#000"/>
<text x="455.30" y="344.33" font-size="4.94" text-anchor="middle" textLength="19.00" lengthAdjust="spacingAndGlyphs" fill="#333" stroke="#333" stroke-width="0.080">Post-HFD</text>
<line x1="318.50" y1="283.90" x2="365.40" y2="283.90" stroke="#bbb" stroke-width="1.2"/>
<circle cx="341.7" cy="278.6" r="1.3" fill="#333"/>
<line x1="409.60" y1="219.00" x2="456.50" y2="219.00" stroke="#bbb" stroke-width="1.2"/>
<circle cx="433" cy="213.8" r="1.3" fill="#333"/>
<text x="282.00" y="272.10" font-size="7.0" text-anchor="middle" textLength="64.40" lengthAdjust="spacingAndGlyphs" transform="rotate(-90 282.0 272.1)" fill="#262626" stroke="#262626" stroke-width="0.096">Average Body Fat (%)</text>
<text transform="translate(531.32 198.50) scale(0.890 1)" font-size="13.08" font-weight="bold" fill="#050505">F</text>
<text x="643.50" y="204.30" font-size="8.86" text-anchor="middle" textLength="79.70" lengthAdjust="spacingAndGlyphs" fill="#262626" stroke="#262626" stroke-width="0.120">Average Lean Body Mass</text>
<line x1="559.70" y1="216.00" x2="559.70" y2="336.50" stroke="#8a8a8a" stroke-width="1.0"/>
<line x1="559.70" y1="336.50" x2="728.00" y2="336.50" stroke="#8a8a8a" stroke-width="1.0"/>
<text x="556.00" y="335.72" font-size="3.5" text-anchor="end" textLength="1.87" lengthAdjust="spacingAndGlyphs" fill="#666">0</text>
<text x="556.00" y="323.97" font-size="3.5" text-anchor="end" textLength="3.74" lengthAdjust="spacingAndGlyphs" fill="#666">10</text>
<text x="556.00" y="312.22" font-size="3.5" text-anchor="end" textLength="3.74" lengthAdjust="spacingAndGlyphs" fill="#666">20</text>
<text x="556.00" y="300.47" font-size="3.5" text-anchor="end" textLength="3.74" lengthAdjust="spacingAndGlyphs" fill="#666">30</text>
<text x="556.00" y="288.72" font-size="3.5" text-anchor="end" textLength="3.74" lengthAdjust="spacingAndGlyphs" fill="#666">40</text>
<text x="556.00" y="276.97" font-size="3.5" text-anchor="end" textLength="3.74" lengthAdjust="spacingAndGlyphs" fill="#666">50</text>
<text x="556.00" y="265.22" font-size="3.5" text-anchor="end" textLength="3.74" lengthAdjust="spacingAndGlyphs" fill="#666">60</text>
<text x="556.00" y="253.47" font-size="3.5" text-anchor="end" textLength="3.74" lengthAdjust="spacingAndGlyphs" fill="#666">70</text>
<text x="556.00" y="241.72" font-size="3.5" text-anchor="end" textLength="3.74" lengthAdjust="spacingAndGlyphs" fill="#666">80</text>
<text x="556.00" y="229.97" font-size="3.5" text-anchor="end" textLength="3.74" lengthAdjust="spacingAndGlyphs" fill="#666">90</text>
<text x="556.00" y="218.22" font-size="3.5" text-anchor="end" textLength="5.61" lengthAdjust="spacingAndGlyphs" fill="#666">100</text>
<line x1="581.20" y1="230.20" x2="581.20" y2="232.60" stroke="#999" stroke-width="0.8"/>
<line x1="579.90" y1="230.20" x2="582.50" y2="230.20" stroke="#999" stroke-width="0.8"/>
<rect x="570.70" y="232.60" width="21.00" height="103.90" fill="#000"/>
<text x="578.80" y="342.33" font-size="4.94" text-anchor="middle" textLength="14.20" lengthAdjust="spacingAndGlyphs" fill="#333" stroke="#333" stroke-width="0.080">Pre-SD</text>
<line x1="623.50" y1="225.50" x2="623.50" y2="226.50" stroke="#999" stroke-width="0.8"/>
<line x1="622.20" y1="225.50" x2="624.80" y2="225.50" stroke="#999" stroke-width="0.8"/>
<rect x="613.10" y="226.50" width="20.80" height="110.00" fill="#000"/>
<text x="623.30" y="342.33" font-size="4.94" text-anchor="middle" textLength="16.70" lengthAdjust="spacingAndGlyphs" fill="#333" stroke="#333" stroke-width="0.080">Post-SD</text>
<line x1="665.95" y1="255.20" x2="665.95" y2="257.30" stroke="#999" stroke-width="0.8"/>
<line x1="664.65" y1="255.20" x2="667.25" y2="255.20" stroke="#999" stroke-width="0.8"/>
<rect x="655.40" y="257.30" width="21.10" height="79.20" fill="#000"/>
<text x="666.20" y="342.33" font-size="4.94" text-anchor="middle" textLength="17.00" lengthAdjust="spacingAndGlyphs" fill="#333" stroke="#333" stroke-width="0.080">Pre-HFD</text>
<line x1="708.25" y1="249.80" x2="708.25" y2="250.70" stroke="#999" stroke-width="0.8"/>
<line x1="706.95" y1="249.80" x2="709.55" y2="249.80" stroke="#999" stroke-width="0.8"/>
<rect x="697.60" y="250.70" width="21.30" height="85.80" fill="#000"/>
<text x="708.20" y="342.33" font-size="4.94" text-anchor="middle" textLength="19.00" lengthAdjust="spacingAndGlyphs" fill="#333" stroke="#333" stroke-width="0.080">Post-HFD</text>
<line x1="579.50" y1="220.90" x2="623.90" y2="220.90" stroke="#bbb" stroke-width="1.2"/>
<circle cx="601.7" cy="215.6" r="1.3" fill="#333"/>
<line x1="601.00" y1="210.50" x2="686.30" y2="210.50" stroke="#bbb" stroke-width="1.2"/>
<circle cx="645" cy="206" r="1.3" fill="#333"/>
<line x1="663.20" y1="238.40" x2="707.80" y2="238.40" stroke="#bbb" stroke-width="1.2"/>
<circle cx="685.4" cy="233.5" r="1.3" fill="#333"/>
<text x="547.80" y="276.00" font-size="6.08" text-anchor="middle" textLength="55.20" lengthAdjust="spacingAndGlyphs" transform="rotate(-90 547.8 276)" fill="#262626" stroke="#262626" stroke-width="0.080">Lean Body Mass (%)</text>
<text transform="translate(4.00 373.37) scale(0.942 1)" font-size="12.89" font-weight="bold" fill="#050505">G</text>
<defs><pattern id="pR1" patternUnits="userSpaceOnUse" width="31" height="31"><g fill="#922c4c"><circle cx="19.8" cy="0.8" r="0.6"/><circle cx="6.9" cy="22.8" r="0.8"/><circle cx="27.7" cy="2.7" r="0.7"/><circle cx="0.9" cy="6.8" r="0.7"/><circle cx="0.8" cy="6.2" r="0.8"/><circle cx="16.9" cy="6.8" r="0.8"/><circle cx="25.1" cy="0.2" r="0.9"/><circle cx="25.1" cy="31.2" r="0.9"/><circle cx="21.6" cy="10.5" r="0.6"/><circle cx="29.7" cy="10.4" r="0.5"/><circle cx="3.0" cy="26.3" r="0.8"/><circle cx="25.0" cy="22.6" r="0.7"/><circle cx="30.2" cy="11.7" r="0.7"/><circle cx="25.7" cy="19.2" r="0.9"/><circle cx="17.9" cy="21.8" r="0.5"/><circle cx="7.1" cy="9.0" r="0.5"/><circle cx="7.2" cy="3.1" r="0.6"/><circle cx="19.7" cy="11.3" r="0.7"/><circle cx="6.5" cy="8.3" r="0.9"/><circle cx="20.1" cy="18.9" r="0.6"/><circle cx="22.6" cy="5.1" r="0.7"/><circle cx="-0.3" cy="19.8" r="0.8"/><circle cx="30.7" cy="19.8" r="0.8"/><circle cx="21.2" cy="26.1" r="0.8"/><circle cx="7.1" cy="1.0" r="0.6"/><circle cx="8.3" cy="6.5" r="0.9"/><circle cx="27.2" cy="9.8" r="0.8"/><circle cx="12.3" cy="28.4" r="0.7"/><circle cx="8.2" cy="7.6" r="0.8"/><circle cx="8.1" cy="18.1" r="0.9"/><circle cx="12.4" cy="6.8" r="0.9"/><circle cx="15.8" cy="2.8" r="0.5"/><circle cx="3.4" cy="19.5" r="0.9"/><circle cx="13.1" cy="2.0" r="0.7"/><circle cx="-0.1" cy="16.4" r="0.9"/><circle cx="30.9" cy="16.4" r="0.9"/><circle cx="26.7" cy="0.4" r="0.8"/><circle cx="26.7" cy="31.4" r="0.8"/><circle cx="21.1" cy="16.6" r="0.6"/><circle cx="19.9" cy="3.5" r="0.7"/><circle cx="14.1" cy="29.6" r="0.9"/><circle cx="8.2" cy="15.5" r="0.6"/><circle cx="28.3" cy="27.0" r="0.6"/><circle cx="19.8" cy="18.9" r="0.6"/><circle cx="23.6" cy="16.7" r="0.9"/><circle cx="16.4" cy="0.0" r="0.6"/><circle cx="16.4" cy="31.0" r="0.6"/><circle cx="0.6" cy="28.8" r="0.9"/><circle cx="31.6" cy="28.8" r="0.9"/><circle cx="25.8" cy="9.5" r="0.5"/><circle cx="27.2" cy="29.4" r="0.5"/><circle cx="15.1" cy="2.1" r="0.8"/><circle cx="23.7" cy="4.0" r="0.7"/><circle cx="17.0" cy="8.2" r="0.9"/><circle cx="13.1" cy="6.6" r="0.7"/><circle cx="22.6" cy="6.2" r="0.6"/><circle cx="-0.2" cy="20.1" r="0.7"/><circle cx="30.8" cy="20.1" r="0.7"/><circle cx="16.0" cy="3.8" r="0.6"/><circle cx="10.5" cy="18.2" r="0.6"/><circle cx="6.8" cy="2.2" r="0.8"/><circle cx="7.1" cy="28.1" r="0.9"/><circle cx="2.2" cy="7.4" r="0.8"/><circle cx="6.6" cy="4.1" r="0.9"/><circle cx="17.7" cy="14.7" r="0.9"/><circle cx="25.0" cy="5.9" r="0.5"/><circle cx="13.4" cy="13.1" r="0.7"/><circle cx="22.6" cy="20.9" r="0.9"/><circle cx="3.1" cy="12.5" r="0.7"/><circle cx="26.7" cy="7.7" r="0.6"/><circle cx="13.9" cy="13.1" r="0.6"/><circle cx="7.7" cy="28.6" r="0.7"/><circle cx="26.7" cy="17.1" r="0.5"/><circle cx="-0.0" cy="25.9" r="0.9"/><circle cx="31.0" cy="25.9" r="0.9"/><circle cx="28.7" cy="26.3" r="0.6"/><circle cx="15.1" cy="6.6" r="0.7"/><circle cx="1.8" cy="11.7" r="0.9"/><circle cx="8.2" cy="24.3" r="0.7"/><circle cx="13.1" cy="29.7" r="0.9"/><circle cx="17.2" cy="22.3" r="0.6"/><circle cx="9.2" cy="30.0" r="0.8"/><circle cx="16.8" cy="23.2" r="0.5"/><circle cx="18.1" cy="15.6" r="0.9"/><circle cx="4.9" cy="29.8" r="0.5"/><circle cx="5.8" cy="18.4" r="0.8"/><circle cx="7.3" cy="3.7" r="0.9"/><circle cx="7.6" cy="18.4" r="0.8"/><circle cx="13.0" cy="18.1" r="0.7"/><circle cx="29.0" cy="6.3" r="0.8"/><circle cx="7.4" cy="12.3" r="0.8"/><circle cx="9.3" cy="9.8" r="0.8"/><circle cx="2.2" cy="14.2" r="0.9"/><circle cx="-0.1" cy="2.3" r="0.6"/><circle cx="30.9" cy="2.3" r="0.6"/><circle cx="8.2" cy="28.9" r="0.9"/><circle cx="27.3" cy="11.5" r="0.6"/><circle cx="25.8" cy="21.8" r="0.8"/><circle cx="-0.4" cy="20.3" r="0.5"/><circle cx="30.6" cy="20.3" r="0.5"/><circle cx="25.3" cy="9.3" r="0.8"/><circle cx="29.1" cy="4.2" r="0.6"/><circle cx="3.3" cy="17.1" r="0.6"/><circle cx="18.7" cy="22.2" r="0.6"/><circle cx="19.7" cy="8.2" r="0.7"/><circle cx="28.1" cy="26.2" r="0.5"/><circle cx="13.1" cy="8.6" r="0.5"/><circle cx="23.9" cy="19.8" r="0.6"/><circle cx="23.0" cy="17.1" r="0.7"/><circle cx="0.3" cy="2.3" r="0.9"/><circle cx="31.3" cy="2.3" r="0.9"/><circle cx="28.0" cy="16.9" r="0.9"/><circle cx="18.1" cy="4.6" r="0.6"/><circle cx="9.6" cy="27.9" r="0.9"/><circle cx="26.7" cy="27.9" r="0.6"/><circle cx="7.7" cy="3.2" r="0.9"/><circle cx="27.4" cy="12.6" r="0.8"/><circle cx="4.8" cy="28.8" r="0.9"/><circle cx="-0.7" cy="25.1" r="0.9"/><circle cx="30.3" cy="25.1" r="0.9"/><circle cx="0.8" cy="22.8" r="0.6"/><circle cx="28.9" cy="24.9" r="0.9"/><circle cx="25.1" cy="8.3" r="0.9"/><circle cx="3.4" cy="27.0" r="0.9"/><circle cx="6.9" cy="25.3" r="0.7"/><circle cx="9.5" cy="24.7" r="0.6"/><circle cx="0.7" cy="6.0" r="0.6"/><circle cx="26.8" cy="30.0" r="0.6"/><circle cx="19.9" cy="12.4" r="0.9"/><circle cx="16.6" cy="29.1" r="0.6"/><circle cx="-0.9" cy="5.5" r="0.9"/><circle cx="30.1" cy="5.5" r="0.9"/><circle cx="8.2" cy="3.4" r="0.7"/><circle cx="22.6" cy="9.7" r="0.8"/><circle cx="15.9" cy="11.9" r="0.8"/><circle cx="7.9" cy="22.0" r="0.5"/><circle cx="28.7" cy="16.7" r="0.8"/><circle cx="23.0" cy="20.8" r="0.7"/><circle cx="2.2" cy="20.6" r="0.6"/><circle cx="9.7" cy="26.3" r="0.8"/><circle cx="9.3" cy="9.6" r="0.7"/><circle cx="12.5" cy="9.2" r="0.6"/><circle cx="13.0" cy="29.2" r="0.8"/><circle cx="28.0" cy="19.1" r="0.6"/><circle cx="17.0" cy="0.0" r="0.6"/><circle cx="17.0" cy="31.0" r="0.6"/><circle cx="13.3" cy="18.0" r="0.8"/><circle cx="14.4" cy="13.7" r="0.6"/><circle cx="14.7" cy="27.9" r="0.9"/><circle cx="5.3" cy="2.6" r="0.7"/><circle cx="19.6" cy="10.4" r="0.9"/><circle cx="23.3" cy="20.9" r="0.6"/><circle cx="6.2" cy="0.8" r="0.6"/><circle cx="14.7" cy="26.3" r="0.5"/><circle cx="12.8" cy="19.5" r="0.6"/><circle cx="21.6" cy="15.3" r="0.6"/><circle cx="20.3" cy="0.2" r="0.8"/><circle cx="20.3" cy="31.2" r="0.8"/><circle cx="23.9" cy="3.3" r="0.7"/><circle cx="5.5" cy="29.7" r="0.7"/><circle cx="1.6" cy="7.7" r="0.9"/><circle cx="14.2" cy="24.8" r="0.8"/><circle cx="-0.4" cy="18.5" r="0.9"/><circle cx="30.6" cy="18.5" r="0.9"/><circle cx="27.6" cy="19.0" r="0.8"/><circle cx="15.6" cy="25.7" r="0.7"/></g></pattern><pattern id="pR2" patternUnits="userSpaceOnUse" width="37" height="37"><g fill="#a82848"><circle cx="33.2" cy="27.5" r="0.7"/><circle cx="9.6" cy="9.1" r="0.8"/><circle cx="28.3" cy="19.3" r="0.8"/><circle cx="10.2" cy="2.9" r="0.6"/><circle cx="10.1" cy="11.8" r="0.7"/><circle cx="5.1" cy="8.6" r="0.8"/><circle cx="26.1" cy="2.4" r="0.7"/><circle cx="20.1" cy="15.4" r="0.6"/><circle cx="15.5" cy="33.5" r="0.8"/><circle cx="25.7" cy="31.7" r="0.8"/><circle cx="14.1" cy="0.2" r="0.7"/><circle cx="14.1" cy="37.2" r="0.7"/><circle cx="27.9" cy="31.6" r="0.9"/><circle cx="15.5" cy="27.7" r="0.7"/><circle cx="22.3" cy="8.2" r="0.6"/><circle cx="16.1" cy="1.1" r="0.7"/><circle cx="25.1" cy="15.0" r="0.6"/><circle cx="17.3" cy="4.7" r="0.8"/><circle cx="1.0" cy="14.6" r="0.8"/><circle cx="1.0" cy="23.8" r="0.6"/><circle cx="17.1" cy="1.9" r="0.7"/><circle cx="7.8" cy="12.1" r="0.8"/><circle cx="14.0" cy="27.8" r="0.9"/><circle cx="9.3" cy="3.0" r="0.5"/><circle cx="20.0" cy="-0.0" r="0.7"/><circle cx="20.0" cy="37.0" r="0.7"/><circle cx="24.1" cy="28.9" r="0.8"/><circle cx="27.9" cy="35.1" r="0.6"/><circle cx="0.8" cy="5.6" r="0.6"/><circle cx="24.8" cy="20.9" r="0.6"/><circle cx="25.9" cy="28.4" r="0.6"/><circle cx="22.5" cy="27.7" r="0.6"/><circle cx="30.3" cy="35.7" r="0.5"/><circle cx="1.0" cy="11.5" r="0.8"/><circle cx="35.5" cy="14.7" r="0.8"/><circle cx="2.8" cy="25.6" r="0.8"/><circle cx="3.8" cy="28.6" r="0.9"/><circle cx="22.2" cy="4.5" r="0.9"/><circle cx="29.0" cy="12.8" r="0.7"/><circle cx="13.7" cy="18.7" r="0.7"/><circle cx="31.4" cy="30.4" r="0.5"/><circle cx="35.5" cy="23.5" r="0.9"/><circle cx="26.2" cy="16.1" r="0.8"/><circle cx="35.7" cy="10.0" r="0.9"/><circle cx="19.9" cy="17.9" r="0.7"/><circle cx="27.0" cy="9.9" r="0.9"/><circle cx="30.7" cy="3.2" r="0.9"/><circle cx="9.0" cy="17.2" r="0.8"/><circle cx="14.0" cy="1.1" r="0.9"/><circle cx="6.7" cy="7.8" r="0.9"/><circle cx="12.6" cy="32.6" r="0.8"/><circle cx="10.2" cy="0.4" r="0.9"/><circle cx="10.2" cy="37.4" r="0.9"/><circle cx="3.2" cy="26.6" r="0.7"/><circle cx="28.1" cy="25.6" r="0.8"/><circle cx="18.2" cy="29.3" r="0.5"/><circle cx="8.2" cy="25.6" r="0.6"/><circle cx="21.5" cy="17.5" r="0.7"/><circle cx="15.7" cy="27.6" r="0.6"/><circle cx="26.0" cy="10.0" r="0.6"/><circle cx="4.5" cy="7.1" r="0.6"/><circle cx="19.8" cy="28.2" r="0.6"/><circle cx="8.0" cy="17.9" r="0.8"/><circle cx="36.1" cy="19.4" r="0.6"/><circle cx="3.7" cy="7.2" r="0.6"/><circle cx="6.6" cy="0.5" r="0.7"/><circle cx="6.6" cy="37.5" r="0.7"/><circle cx="10.1" cy="36.0" r="0.7"/><circle cx="25.8" cy="4.7" r="0.9"/><circle cx="18.2" cy="32.3" r="0.8"/><circle cx="17.4" cy="16.3" r="0.6"/><circle cx="1.9" cy="34.8" r="0.7"/><circle cx="30.4" cy="14.8" r="0.5"/><circle cx="23.3" cy="2.0" r="0.6"/><circle cx="20.8" cy="11.2" r="0.9"/><circle cx="4.4" cy="28.3" r="0.8"/><circle cx="29.3" cy="8.4" r="0.7"/><circle cx="16.7" cy="16.4" r="0.9"/><circle cx="-0.4" cy="11.3" r="0.8"/><circle cx="36.6" cy="11.3" r="0.8"/><circle cx="22.6" cy="27.4" r="0.9"/><circle cx="7.7" cy="7.8" r="0.8"/><circle cx="5.8" cy="6.4" r="0.5"/><circle cx="0.1" cy="16.7" r="0.8"/><circle cx="37.1" cy="16.7" r="0.8"/><circle cx="10.8" cy="8.6" r="0.8"/><circle cx="26.0" cy="16.8" r="0.8"/><circle cx="34.2" cy="29.1" r="0.8"/><circle cx="24.5" cy="34.5" r="0.7"/><circle cx="20.1" cy="24.0" r="0.9"/><circle cx="30.6" cy="2.6" r="0.6"/><circle cx="11.4" cy="27.7" r="0.8"/><circle cx="10.7" cy="4.6" r="0.8"/><circle cx="25.9" cy="34.9" r="0.7"/><circle cx="18.3" cy="3.0" r="0.5"/><circle cx="16.0" cy="11.9" r="0.6"/><circle cx="3.4" cy="35.6" r="0.9"/><circle cx="21.3" cy="35.2" r="0.9"/><circle cx="24.9" cy="10.0" r="0.5"/><circle cx="28.0" cy="17.4" r="0.8"/><circle cx="33.9" cy="6.7" r="0.8"/><circle cx="23.5" cy="18.2" r="0.5"/><circle cx="12.9" cy="12.3" r="0.8"/><circle cx="31.7" cy="12.2" r="0.8"/><circle cx="10.7" cy="35.0" r="0.9"/><circle cx="20.4" cy="16.8" r="0.6"/><circle cx="12.0" cy="35.9" r="0.7"/><circle cx="19.0" cy="-0.4" r="0.8"/><circle cx="19.0" cy="36.6" r="0.8"/><circle cx="20.1" cy="15.3" r="0.6"/><circle cx="13.4" cy="28.0" r="0.8"/><circle cx="28.1" cy="7.5" r="0.7"/><circle cx="34.3" cy="16.2" r="0.8"/><circle cx="4.5" cy="36.0" r="0.8"/><circle cx="8.9" cy="5.9" r="0.7"/><circle cx="20.4" cy="3.4" r="0.9"/><circle cx="33.8" cy="17.1" r="0.6"/><circle cx="30.8" cy="18.4" r="0.8"/><circle cx="18.8" cy="10.1" r="0.9"/><circle cx="-0.7" cy="9.0" r="0.7"/><circle cx="36.3" cy="9.0" r="0.7"/><circle cx="14.2" cy="34.1" r="0.7"/><circle cx="32.5" cy="32.0" r="0.6"/><circle cx="29.2" cy="15.4" r="0.9"/><circle cx="18.8" cy="30.4" r="0.6"/><circle cx="11.0" cy="21.7" r="0.9"/><circle cx="18.1" cy="5.5" r="0.7"/><circle cx="12.8" cy="20.4" r="0.7"/><circle cx="16.8" cy="11.9" r="0.6"/><circle cx="25.8" cy="21.2" r="0.6"/><circle cx="28.7" cy="1.6" r="0.8"/><circle cx="26.1" cy="30.0" r="0.7"/><circle cx="24.6" cy="30.4" r="0.9"/><circle cx="18.3" cy="1.4" r="0.7"/><circle cx="21.8" cy="32.2" r="0.9"/><circle cx="16.3" cy="19.5" r="0.7"/><circle cx="26.7" cy="15.2" r="0.8"/><circle cx="5.7" cy="17.4" r="0.9"/><circle cx="12.5" cy="25.6" r="0.8"/><circle cx="31.5" cy="31.5" r="0.9"/><circle cx="14.1" cy="11.7" r="0.8"/><circle cx="28.1" cy="32.3" r="0.5"/><circle cx="2.5" cy="23.4" r="0.9"/><circle cx="-0.1" cy="27.6" r="0.7"/><circle cx="36.9" cy="27.6" r="0.7"/><circle cx="3.6" cy="23.4" r="0.9"/><circle cx="16.4" cy="25.7" r="0.9"/><circle cx="1.7" cy="29.5" r="0.6"/><circle cx="13.9" cy="5.4" r="0.7"/><circle cx="20.9" cy="29.3" r="0.6"/><circle cx="2.9" cy="32.2" r="0.8"/><circle cx="8.9" cy="33.8" r="0.6"/><circle cx="17.1" cy="9.4" r="0.6"/><circle cx="0.3" cy="29.8" r="0.9"/><circle cx="37.3" cy="29.8" r="0.9"/><circle cx="25.1" cy="5.8" r="0.7"/><circle cx="12.8" cy="21.7" r="0.8"/><circle cx="15.7" cy="9.3" r="0.9"/><circle cx="7.4" cy="14.2" r="0.7"/><circle cx="8.8" cy="21.2" r="0.8"/><circle cx="-0.3" cy="10.9" r="0.9"/><circle cx="36.7" cy="10.9" r="0.9"/><circle cx="24.4" cy="10.2" r="0.8"/><circle cx="25.4" cy="27.6" r="0.5"/><circle cx="22.4" cy="18.4" r="0.9"/><circle cx="10.6" cy="29.6" r="0.8"/><circle cx="13.0" cy="23.6" r="0.8"/><circle cx="25.1" cy="26.7" r="0.8"/><circle cx="31.0" cy="23.2" r="0.9"/><circle cx="23.9" cy="11.4" r="0.7"/><circle cx="21.4" cy="27.1" r="0.5"/><circle cx="10.9" cy="27.7" r="0.6"/><circle cx="4.9" cy="20.0" r="0.9"/><circle cx="19.6" cy="33.8" r="0.9"/><circle cx="9.5" cy="30.5" r="0.7"/><circle cx="29.8" cy="27.6" r="0.7"/><circle cx="4.3" cy="35.6" r="0.6"/><circle cx="35.8" cy="31.8" r="0.8"/><circle cx="-0.7" cy="35.8" r="0.9"/><circle cx="36.3" cy="35.8" r="0.9"/><circle cx="13.5" cy="29.3" r="0.5"/><circle cx="19.9" cy="16.8" r="0.8"/><circle cx="24.9" cy="21.6" r="0.9"/><circle cx="34.8" cy="4.0" r="0.6"/><circle cx="0.9" cy="32.7" r="0.8"/><circle cx="33.9" cy="8.2" r="0.5"/><circle cx="30.5" cy="33.6" r="0.6"/><circle cx="15.1" cy="5.2" r="0.9"/><circle cx="11.3" cy="18.2" r="0.5"/><circle cx="32.8" cy="5.0" r="0.7"/><circle cx="24.8" cy="27.5" r="0.9"/><circle cx="15.5" cy="27.5" r="0.6"/></g></pattern><pattern id="pR3" patternUnits="userSpaceOnUse" width="43" height="43"><g fill="#b81a30"><circle cx="17.8" cy="4.3" r="1.8"/><circle cx="17.5" cy="40.9" r="1.2"/><circle cx="15.9" cy="19.1" r="2.3"/><circle cx="36.8" cy="4.3" r="2.0"/><circle cx="23.4" cy="-1.0" r="1.6"/><circle cx="23.4" cy="42.0" r="1.6"/><circle cx="17.1" cy="8.2" r="1.3"/><circle cx="36.5" cy="19.6" r="2.0"/><circle cx="27.6" cy="25.7" r="1.2"/><circle cx="33.8" cy="10.5" r="1.4"/><circle cx="24.3" cy="3.0" r="2.1"/><circle cx="8.9" cy="9.3" r="2.2"/><circle cx="14.1" cy="6.3" r="2.3"/><circle cx="0.1" cy="36.9" r="1.4"/><circle cx="43.1" cy="36.9" r="1.4"/><circle cx="5.6" cy="10.8" r="1.4"/><circle cx="28.4" cy="1.1" r="1.2"/><circle cx="28.4" cy="44.1" r="1.2"/><circle cx="34.0" cy="10.2" r="1.6"/></g></pattern><pattern id="pB1" patternUnits="userSpaceOnUse" width="29" height="29"><g fill="#60507e"><circle cx="5.1" cy="1.5" r="0.7"/><circle cx="15.3" cy="21.6" r="0.6"/><circle cx="22.6" cy="14.9" r="0.5"/><circle cx="14.6" cy="27.4" r="0.5"/><circle cx="22.7" cy="25.1" r="0.6"/><circle cx="13.3" cy="28.0" r="0.5"/><circle cx="13.9" cy="11.6" r="0.7"/><circle cx="14.2" cy="26.4" r="0.5"/><circle cx="2.3" cy="17.6" r="0.5"/><circle cx="8.0" cy="18.4" r="0.6"/><circle cx="9.4" cy="-0.2" r="0.6"/><circle cx="9.4" cy="28.8" r="0.6"/><circle cx="13.2" cy="17.6" r="0.5"/><circle cx="20.4" cy="24.7" r="0.7"/><circle cx="22.3" cy="20.9" r="0.5"/><circle cx="13.1" cy="6.6" r="0.6"/><circle cx="13.2" cy="12.1" r="0.5"/><circle cx="12.4" cy="19.3" r="0.6"/><circle cx="4.4" cy="26.8" r="0.5"/><circle cx="24.1" cy="2.7" r="0.5"/><circle cx="21.4" cy="23.5" r="0.6"/><circle cx="17.0" cy="16.3" r="0.6"/><circle cx="3.5" cy="10.3" r="0.7"/><circle cx="21.8" cy="25.2" r="0.7"/><circle cx="28.1" cy="17.4" r="0.6"/><circle cx="16.8" cy="6.2" r="0.7"/><circle cx="6.5" cy="3.1" r="0.7"/><circle cx="10.7" cy="22.1" r="0.7"/><circle cx="23.4" cy="24.5" r="0.8"/><circle cx="23.7" cy="17.8" r="0.7"/><circle cx="0.8" cy="26.9" r="0.7"/><circle cx="7.8" cy="5.2" r="0.7"/><circle cx="9.0" cy="9.9" r="0.5"/><circle cx="25.2" cy="16.4" r="0.6"/><circle cx="4.1" cy="18.4" r="0.5"/><circle cx="21.6" cy="6.2" r="0.6"/><circle cx="9.9" cy="10.7" r="0.7"/><circle cx="22.5" cy="16.5" r="0.5"/><circle cx="1.5" cy="4.6" r="0.7"/><circle cx="19.5" cy="7.9" r="0.7"/><circle cx="14.1" cy="12.8" r="0.5"/><circle cx="21.9" cy="3.3" r="0.6"/><circle cx="8.2" cy="19.7" r="0.6"/><circle cx="19.3" cy="1.3" r="0.6"/><circle cx="17.4" cy="0.2" r="0.6"/><circle cx="17.4" cy="29.2" r="0.6"/><circle cx="6.1" cy="4.0" r="0.5"/><circle cx="9.5" cy="0.2" r="0.7"/><circle cx="9.5" cy="29.2" r="0.7"/><circle cx="5.1" cy="11.0" r="0.7"/><circle cx="14.5" cy="24.2" r="0.7"/><circle cx="2.1" cy="25.0" r="0.5"/><circle cx="0.5" cy="26.7" r="0.8"/><circle cx="29.5" cy="26.7" r="0.8"/><circle cx="16.7" cy="16.6" r="0.7"/><circle cx="12.1" cy="3.3" r="0.5"/><circle cx="9.4" cy="23.2" r="0.7"/><circle cx="24.1" cy="26.7" r="0.5"/><circle cx="24.5" cy="7.1" r="0.7"/><circle cx="15.2" cy="11.5" r="0.6"/><circle cx="9.8" cy="9.7" r="0.5"/><circle cx="14.8" cy="3.3" r="0.6"/><circle cx="26.3" cy="10.1" r="0.7"/><circle cx="23.7" cy="23.6" r="0.5"/><circle cx="4.2" cy="5.7" r="0.7"/><circle cx="22.0" cy="19.0" r="0.5"/><circle cx="22.4" cy="14.3" r="0.7"/><circle cx="22.0" cy="13.0" r="0.8"/><circle cx="16.4" cy="18.4" r="0.7"/><circle cx="25.1" cy="18.2" r="0.5"/><circle cx="2.0" cy="12.8" r="0.6"/><circle cx="8.0" cy="1.6" r="0.6"/><circle cx="9.0" cy="13.1" r="0.5"/><circle cx="24.1" cy="2.2" r="0.8"/><circle cx="24.8" cy="17.8" r="0.6"/><circle cx="13.4" cy="16.1" r="0.7"/><circle cx="26.0" cy="13.0" r="0.7"/><circle cx="18.9" cy="9.3" r="0.6"/><circle cx="4.4" cy="1.8" r="0.5"/><circle cx="26.1" cy="10.0" r="0.7"/><circle cx="14.6" cy="5.0" r="0.5"/><circle cx="12.7" cy="12.7" r="0.6"/><circle cx="4.6" cy="10.8" r="0.5"/><circle cx="11.9" cy="9.8" r="0.7"/><circle cx="22.9" cy="18.8" r="0.5"/><circle cx="2.7" cy="19.7" r="0.5"/><circle cx="21.0" cy="19.0" r="0.8"/><circle cx="25.3" cy="9.7" r="0.7"/><circle cx="4.1" cy="10.1" r="0.8"/><circle cx="20.3" cy="11.4" r="0.7"/><circle cx="27.2" cy="9.0" r="0.6"/><circle cx="23.0" cy="23.6" r="0.7"/><circle cx="24.0" cy="21.4" r="0.7"/><circle cx="15.3" cy="18.7" r="0.6"/><circle cx="10.5" cy="10.5" r="0.5"/><circle cx="6.2" cy="27.5" r="0.6"/><circle cx="6.6" cy="4.0" r="0.5"/><circle cx="24.5" cy="2.9" r="0.7"/><circle cx="24.2" cy="25.6" r="0.5"/><circle cx="9.8" cy="22.2" r="0.5"/><circle cx="10.9" cy="4.7" r="0.7"/><circle cx="22.4" cy="23.5" r="0.5"/><circle cx="12.7" cy="11.9" r="0.7"/><circle cx="6.9" cy="12.9" r="0.5"/><circle cx="21.7" cy="13.0" r="0.6"/><circle cx="9.0" cy="23.5" r="0.6"/><circle cx="24.2" cy="10.7" r="0.8"/><circle cx="-0.5" cy="13.4" r="0.5"/><circle cx="28.5" cy="13.4" r="0.5"/><circle cx="11.1" cy="15.3" r="0.8"/><circle cx="23.7" cy="23.2" r="0.5"/><circle cx="7.3" cy="18.6" r="0.8"/><circle cx="16.1" cy="3.0" r="0.7"/><circle cx="24.7" cy="8.3" r="0.7"/><circle cx="7.9" cy="26.3" r="0.5"/></g></pattern><pattern id="pL1" patternUnits="userSpaceOnUse" width="23" height="23"><g fill="#ecd0dc"><circle cx="10.1" cy="21.8" r="0.5"/><circle cx="10.4" cy="8.0" r="0.4"/><circle cx="1.2" cy="11.5" r="0.5"/><circle cx="-0.1" cy="8.6" r="0.4"/><circle cx="22.9" cy="8.6" r="0.4"/><circle cx="21.4" cy="19.3" r="0.7"/><circle cx="18.2" cy="3.2" r="0.5"/><circle cx="19.1" cy="16.0" r="0.5"/><circle cx="16.2" cy="10.3" r="0.4"/><circle cx="1.8" cy="5.9" r="0.7"/><circle cx="12.6" cy="16.7" r="0.6"/><circle cx="2.6" cy="6.6" r="0.5"/><circle cx="1.1" cy="9.7" r="0.7"/><circle cx="10.5" cy="2.5" r="0.8"/><circle cx="13.7" cy="0.4" r="0.6"/><circle cx="13.7" cy="23.4" r="0.6"/><circle cx="5.6" cy="3.3" r="0.6"/><circle cx="14.1" cy="5.5" r="0.6"/><circle cx="15.3" cy="2.0" r="0.8"/><circle cx="1.6" cy="12.1" r="0.6"/><circle cx="-0.3" cy="12.7" r="0.6"/><circle cx="22.7" cy="12.7" r="0.6"/><circle cx="10.8" cy="14.6" r="0.8"/><circle cx="5.8" cy="0.4" r="0.7"/><circle cx="5.8" cy="23.4" r="0.7"/><circle cx="7.9" cy="16.9" r="0.7"/><circle cx="17.7" cy="16.9" r="0.5"/><circle cx="1.0" cy="12.6" r="0.7"/><circle cx="4.0" cy="17.9" r="0.6"/><circle cx="16.0" cy="14.5" r="0.7"/><circle cx="1.5" cy="17.9" r="0.6"/><circle cx="6.7" cy="1.0" r="0.5"/><circle cx="1.0" cy="21.5" r="0.6"/><circle cx="-0.3" cy="12.5" r="0.5"/><circle cx="22.7" cy="12.5" r="0.5"/><circle cx="17.3" cy="4.4" r="0.5"/><circle cx="18.0" cy="19.9" r="0.5"/><circle cx="2.9" cy="8.5" r="0.8"/><circle cx="17.1" cy="20.6" r="0.6"/><circle cx="22.4" cy="11.4" r="0.6"/><circle cx="21.3" cy="11.9" r="0.7"/><circle cx="16.7" cy="1.8" r="0.6"/><circle cx="18.9" cy="12.5" r="0.5"/><circle cx="1.8" cy="15.2" r="0.5"/><circle cx="13.9" cy="9.8" r="0.7"/><circle cx="8.1" cy="1.0" r="0.7"/><circle cx="8.1" cy="-0.0" r="0.5"/><circle cx="8.1" cy="23.0" r="0.5"/><circle cx="22.5" cy="21.8" r="0.4"/><circle cx="14.7" cy="8.4" r="0.7"/><circle cx="15.6" cy="21.9" r="0.5"/><circle cx="14.0" cy="18.0" r="0.4"/><circle cx="1.5" cy="17.9" r="0.5"/><circle cx="8.8" cy="13.0" r="0.6"/><circle cx="15.6" cy="21.8" r="0.5"/><circle cx="17.6" cy="13.2" r="0.6"/><circle cx="9.2" cy="14.9" r="0.5"/><circle cx="2.6" cy="16.9" r="0.6"/><circle cx="8.9" cy="12.9" r="0.5"/><circle cx="6.0" cy="10.3" r="0.8"/><circle cx="6.6" cy="21.1" r="0.6"/><circle cx="2.8" cy="19.6" r="0.6"/><circle cx="20.7" cy="10.2" r="0.4"/><circle cx="15.7" cy="19.4" r="0.5"/><circle cx="8.0" cy="1.5" r="0.6"/><circle cx="20.5" cy="19.6" r="0.7"/><circle cx="21.3" cy="14.7" r="0.7"/><circle cx="11.7" cy="2.8" r="0.5"/><circle cx="3.2" cy="18.2" r="0.4"/><circle cx="12.7" cy="8.5" r="0.7"/><circle cx="12.7" cy="14.1" r="0.4"/><circle cx="7.1" cy="-0.0" r="0.7"/><circle cx="7.1" cy="23.0" r="0.7"/><circle cx="12.1" cy="17.7" r="0.7"/><circle cx="1.7" cy="-0.6" r="0.7"/><circle cx="1.7" cy="22.4" r="0.7"/><circle cx="10.3" cy="15.6" r="0.5"/><circle cx="20.2" cy="17.9" r="0.7"/><circle cx="4.2" cy="22.2" r="0.6"/><circle cx="20.9" cy="1.3" r="0.4"/><circle cx="3.5" cy="3.8" r="0.5"/><circle cx="16.3" cy="8.0" r="0.8"/><circle cx="20.6" cy="19.5" r="0.5"/></g></pattern><filter id="soft" x="0" y="0" width="1" height="1"><feGaussianBlur stdDeviation="0.5"/></filter><filter id="blur1" x="-50%" y="-50%" width="200%" height="200%"><feGaussianBlur stdDeviation="0.9"/></filter><filter id="blur3" x="-50%" y="-50%" width="200%" height="200%"><feGaussianBlur stdDeviation="6"/></filter><clipPath id="gclip"><rect x="31.3" y="378.2" width="219.0" height="181.8"/></clipPath></defs>
<g filter="url(#soft)" clip-path="url(#gclip)">
<rect x="31.3" y="378.2" width="112.3" height="91.40000000000003" fill="#84506e"/>
<rect x="31.3" y="378.2" width="112.3" height="91.40000000000003" fill="url(#pB1)" opacity="0.25"/>
<rect x="31.3" y="378.2" width="112.3" height="91.40000000000003" fill="url(#pL1)" opacity="0.5"/>
<rect x="31.3" y="378.2" width="112.3" height="91.40000000000003" fill="url(#pR1)" opacity="1.0"/>
<rect x="31.3" y="378.2" width="112.3" height="91.40000000000003" fill="url(#pR2)" opacity="0.95"/>
<rect x="143.6" y="378.2" width="106.70000000000002" height="91.40000000000003" fill="#907890"/>
<rect x="143.6" y="378.2" width="106.70000000000002" height="91.40000000000003" fill="url(#pB1)" opacity="0.4"/>
<rect x="143.6" y="378.2" width="106.70000000000002" height="91.40000000000003" fill="url(#pL1)" opacity="0.58"/>
<rect x="143.6" y="378.2" width="106.70000000000002" height="91.40000000000003" fill="url(#pR1)" opacity="0.8"/>
<rect x="143.6" y="378.2" width="106.70000000000002" height="91.40000000000003" fill="url(#pR2)" opacity="0.45"/>
<rect x="31.3" y="469.6" width="112.3" height="90.39999999999998" fill="#b83050"/>
<rect x="31.3" y="469.6" width="112.3" height="90.39999999999998" fill="url(#pB1)" opacity="0.2"/>
<rect x="31.3" y="469.6" width="112.3" height="90.39999999999998" fill="url(#pL1)" opacity="0.36"/>
<rect x="31.3" y="469.6" width="112.3" height="90.39999999999998" fill="url(#pR1)" opacity="1.0"/>
<rect x="31.3" y="469.6" width="112.3" height="90.39999999999998" fill="url(#pR2)" opacity="1.0"/>
<rect x="31.3" y="469.6" width="112.3" height="90.39999999999998" fill="url(#pR3)" opacity="0.9"/>
<rect x="143.6" y="469.6" width="106.70000000000002" height="90.39999999999998" fill="#a85672"/>
<rect x="143.6" y="469.6" width="106.70000000000002" height="90.39999999999998" fill="url(#pB1)" opacity="0.25"/>
<rect x="143.6" y="469.6" width="106.70000000000002" height="90.39999999999998" fill="url(#pL1)" opacity="0.48"/>
<rect x="143.6" y="469.6" width="106.70000000000002" height="90.39999999999998" fill="url(#pR1)" opacity="1.0"/>
<rect x="143.6" y="469.6" width="106.70000000000002" height="90.39999999999998" fill="url(#pR2)" opacity="0.9"/>
<rect x="143.6" y="469.6" width="106.70000000000002" height="90.39999999999998" fill="url(#pR3)" opacity="0.35"/>
<rect x="31.3" y="469.6" width="112.3" height="90.39999999999998" fill="#e8102c" opacity="0.22"/>
<rect x="143.6" y="469.6" width="106.70000000000002" height="90.39999999999998" fill="#d8102c" opacity="0.12"/>
<g filter="url(#blur3)" fill="#8078a0" opacity="0.3"><ellipse cx="36" cy="440" rx="6" ry="25"/><ellipse cx="68" cy="410" rx="10" ry="9"/><ellipse cx="115" cy="462" rx="20" ry="6"/><ellipse cx="170" cy="420" rx="12" ry="16"/><ellipse cx="215" cy="445" rx="16" ry="10"/><ellipse cx="75" cy="530" rx="8" ry="6"/><ellipse cx="158" cy="522" rx="10" ry="14"/><ellipse cx="215" cy="505" rx="10" ry="8"/></g>
<g filter="url(#blur3)" fill="#d0202e" opacity="0.3"><ellipse cx="85" cy="425" rx="25" ry="20"/><ellipse cx="235" cy="392" rx="14" ry="12"/><ellipse cx="215" cy="545" rx="30" ry="14"/><ellipse cx="90" cy="505" rx="30" ry="20"/></g>
</g>
<g clip-path="url(#gclip)" fill="#cdc6cf" filter="url(#blur1)"><path d="M62 399 Q69 395 75 403 L74 415 Q68 418 63 412 Z" fill="#4a4a7a" opacity="0.5"/><path d="M65.5 402.5 Q69 400 71.5 404 L71.5 412 Q68 414 66 411 Z" fill="#b8bcbc"/><ellipse cx="153" cy="458" rx="5" ry="1.8"/><ellipse cx="205" cy="458" rx="6" ry="1.5"/><path d="M161 481 L173 480 L171 496 Q167 502 164 495 Z"/><path d="M196 481 L209 480 Q208 488 203 491 Q198 488 196 484 Z"/><path d="M146 501 L157 502 L156 505 L146 504 Z"/><ellipse cx="84" cy="536" rx="2.5" ry="2"/><ellipse cx="136" cy="526" rx="2" ry="1.8"/><ellipse cx="140" cy="494" rx="1.5" ry="2.2"/><ellipse cx="186" cy="503" rx="2" ry="1.5"/><ellipse cx="225" cy="493" rx="3" ry="1.5"/></g>
<circle cx="184" cy="426" r="1.3" fill="#222" filter="url(#blur1)"/>
<rect x="31.3" y="378.2" width="219.0" height="181.8" fill="none" stroke="#333" stroke-width="0.6"/>
<line x1="143.60" y1="378.20" x2="143.60" y2="560.00" stroke="#1a1a1a" stroke-width="1.2"/>
<line x1="31.30" y1="469.60" x2="250.30" y2="469.60" stroke="#1a1a1a" stroke-width="1.2"/>
<rect x="32.90" y="381.70" width="58.50" height="8.60" fill="#fff"/>
<text x="33.70" y="389.00" font-size="8.03" textLength="56.90" lengthAdjust="spacingAndGlyphs" font-weight="bold" fill="#000" stroke="#000" stroke-width="0.200">Pre-Surgery, SD</text>
<rect x="145.70" y="381.70" width="63.30" height="8.60" fill="#fff"/>
<text x="146.50" y="389.00" font-size="8.03" textLength="61.70" lengthAdjust="spacingAndGlyphs" font-weight="bold" fill="#000" stroke="#000" stroke-width="0.200">Pre-Surgery, HFD</text>
<rect x="32.90" y="474.60" width="62.10" height="8.60" fill="#fff"/>
<text x="33.70" y="481.90" font-size="8.03" textLength="60.50" lengthAdjust="spacingAndGlyphs" font-weight="bold" fill="#000" stroke="#000" stroke-width="0.200">Post-Surgery, SD</text>
<rect x="146.10" y="474.60" width="66.60" height="8.60" fill="#fff"/>
<text x="146.90" y="481.90" font-size="8.03" textLength="65.00" lengthAdjust="spacingAndGlyphs" font-weight="bold" fill="#000" stroke="#000" stroke-width="0.200">Post-Surgery, HFD</text>
<text transform="translate(268.08 373.50) scale(0.936 1)" font-size="13.08" font-weight="bold" fill="#050505">H</text>
<text x="367.60" y="390.40" font-size="7.83" text-anchor="middle" textLength="88.60" lengthAdjust="spacingAndGlyphs" fill="#262626" stroke="#262626" stroke-width="0.096">Fat on Liver for Standard Diet</text>
<line x1="306.30" y1="400.00" x2="306.30" y2="500.50" stroke="#8a8a8a" stroke-width="1.0"/>
<line x1="306.30" y1="500.50" x2="422.30" y2="500.50" stroke="#8a8a8a" stroke-width="1.0"/>
<text x="301.00" y="501.86" font-size="5.05" text-anchor="end" textLength="2.70" lengthAdjust="spacingAndGlyphs" fill="#777">0</text>
<text x="301.00" y="485.23" font-size="5.05" text-anchor="end" textLength="5.39" lengthAdjust="spacingAndGlyphs" fill="#777">10</text>
<text x="301.00" y="468.60" font-size="5.05" text-anchor="end" textLength="5.39" lengthAdjust="spacingAndGlyphs" fill="#777">20</text>
<text x="301.00" y="451.96" font-size="5.05" text-anchor="end" textLength="5.39" lengthAdjust="spacingAndGlyphs" fill="#777">30</text>
<text x="301.00" y="435.33" font-size="5.05" text-anchor="end" textLength="5.39" lengthAdjust="spacingAndGlyphs" fill="#777">40</text>
<text x="301.00" y="418.70" font-size="5.05" text-anchor="end" textLength="5.39" lengthAdjust="spacingAndGlyphs" fill="#777">50</text>
<text x="301.00" y="402.06" font-size="5.05" text-anchor="end" textLength="5.39" lengthAdjust="spacingAndGlyphs" fill="#777">60</text>
<line x1="331.05" y1="467.40" x2="331.05" y2="471.10" stroke="#aaa" stroke-width="0.8"/>
<line x1="329.75" y1="467.40" x2="332.35" y2="467.40" stroke="#aaa" stroke-width="0.8"/>
<rect x="315.90" y="471.10" width="30.30" height="29.40" fill="#000"/>
<text x="333.50" y="509.92" font-size="7.21" text-anchor="middle" textLength="33.00" lengthAdjust="spacingAndGlyphs" fill="#222" stroke="#222" stroke-width="0.096">Pre-Surgery</text>
<line x1="391.60" y1="481.30" x2="391.60" y2="482.40" stroke="#aaa" stroke-width="0.8"/>
<line x1="390.30" y1="481.30" x2="392.90" y2="481.30" stroke="#aaa" stroke-width="0.8"/>
<rect x="376.60" y="482.40" width="30.00" height="18.10" fill="#000"/>
<text x="394.70" y="509.92" font-size="7.21" text-anchor="middle" textLength="36.00" lengthAdjust="spacingAndGlyphs" fill="#222" stroke="#222" stroke-width="0.096">Post-Surgery</text>
<line x1="331.50" y1="462.30" x2="389.40" y2="462.30" stroke="#1a1a1a" stroke-width="1.3"/>
<line x1="360.60" y1="454.70" x2="360.60" y2="458.10" stroke="#444" stroke-width="0.9"/>
<line x1="359.13" y1="455.55" x2="362.07" y2="457.25" stroke="#444" stroke-width="0.9"/>
<line x1="359.13" y1="457.25" x2="362.07" y2="455.55" stroke="#444" stroke-width="0.9"/>
<text x="292.20" y="457.90" font-size="7.62" text-anchor="middle" textLength="51.10" lengthAdjust="spacingAndGlyphs" transform="rotate(-90 292.2 457.9)" fill="#262626" stroke="#262626" stroke-width="0.120">Fat on Liver (%)</text>
<text transform="translate(444.32 373.50) scale(1.000 1)" font-size="13.08" font-weight="bold" fill="#050505">I</text>
<text x="521.30" y="390.50" font-size="7.83" text-anchor="middle" textLength="78.30" lengthAdjust="spacingAndGlyphs" fill="#262626" stroke="#262626" stroke-width="0.096">Fat on Liver for High Fat Diet</text>
<line x1="473.40" y1="395.00" x2="473.40" y2="499.70" stroke="#8a8a8a" stroke-width="1.0"/>
<line x1="473.40" y1="499.70" x2="580.00" y2="499.70" stroke="#8a8a8a" stroke-width="1.0"/>
<text x="469.00" y="500.86" font-size="5.05" text-anchor="end" textLength="2.70" lengthAdjust="spacingAndGlyphs" fill="#777">0</text>
<text x="469.00" y="483.51" font-size="5.05" text-anchor="end" textLength="5.39" lengthAdjust="spacingAndGlyphs" fill="#777">10</text>
<text x="469.00" y="466.16" font-size="5.05" text-anchor="end" textLength="5.39" lengthAdjust="spacingAndGlyphs" fill="#777">20</text>
<text x="469.00" y="448.81" font-size="5.05" text-anchor="end" textLength="5.39" lengthAdjust="spacingAndGlyphs" fill="#777">30</text>
<text x="469.00" y="431.46" font-size="5.05" text-anchor="end" textLength="5.39" lengthAdjust="spacingAndGlyphs" fill="#777">40</text>
<text x="469.00" y="414.11" font-size="5.05" text-anchor="end" textLength="5.39" lengthAdjust="spacingAndGlyphs" fill="#777">50</text>
<text x="469.00" y="396.76" font-size="5.05" text-anchor="end" textLength="5.39" lengthAdjust="spacingAndGlyphs" fill="#777">60</text>
<line x1="494.20" y1="406.40" x2="494.20" y2="413.80" stroke="#888" stroke-width="0.8"/>
<line x1="492.90" y1="406.40" x2="495.50" y2="406.40" stroke="#888" stroke-width="0.8"/>
<rect x="479.80" y="413.80" width="28.80" height="85.90" fill="#FF7A00"/>
<text x="494.00" y="509.92" font-size="7.21" text-anchor="middle" textLength="30.40" lengthAdjust="spacingAndGlyphs" fill="#222" stroke="#222" stroke-width="0.096">Pre-Surgery</text>
<line x1="551.70" y1="438.30" x2="551.70" y2="441.10" stroke="#888" stroke-width="0.8"/>
<line x1="550.40" y1="438.30" x2="553.00" y2="438.30" stroke="#888" stroke-width="0.8"/>
<rect x="537.30" y="441.10" width="28.80" height="58.60" fill="#FF7A00"/>
<text x="549.60" y="509.92" font-size="7.21" text-anchor="middle" textLength="33.00" lengthAdjust="spacingAndGlyphs" fill="#222" stroke="#222" stroke-width="0.096">Post-Surgery</text>
<line x1="494.70" y1="402.00" x2="549.80" y2="402.00" stroke="#3a3a3a" stroke-width="1.5"/>
<line x1="522.40" y1="394.60" x2="522.40" y2="397.80" stroke="#444" stroke-width="0.9"/>
<line x1="521.01" y1="395.40" x2="523.79" y2="397.00" stroke="#444" stroke-width="0.9"/>
<line x1="521.01" y1="397.00" x2="523.79" y2="395.40" stroke="#444" stroke-width="0.9"/>
<text x="460.60" y="453.60" font-size="7.62" text-anchor="middle" textLength="52.60" lengthAdjust="spacingAndGlyphs" transform="rotate(-90 460.6 453.6)" fill="#262626" stroke="#262626" stroke-width="0.160">Fat on Liver (%)</text>
<text transform="translate(595.30 373.80) scale(0.970 1)" font-size="13.52" font-weight="bold" fill="#050505">J</text>
<rect x="615.40" y="380.20" width="125.20" height="147.10" fill="none" stroke="#cfcfcf" stroke-width="0.9"/>
<line x1="615.40" y1="380.20" x2="615.40" y2="527.30" stroke="#9a9a9a" stroke-width="0.9"/>
<line x1="615.40" y1="527.30" x2="740.60" y2="527.30" stroke="#9a9a9a" stroke-width="0.9"/>
<line x1="613.90" y1="385.70" x2="615.40" y2="385.70" stroke="#888" stroke-width="0.5"/>
<text x="613.20" y="386.90" font-size="3.4" text-anchor="end" fill="#555">30</text>
<line x1="613.90" y1="414.40" x2="615.40" y2="414.40" stroke="#888" stroke-width="0.5"/>
<text x="613.20" y="415.60" font-size="3.4" text-anchor="end" fill="#555">25</text>
<line x1="613.90" y1="443.40" x2="615.40" y2="443.40" stroke="#888" stroke-width="0.5"/>
<text x="613.20" y="444.60" font-size="3.4" text-anchor="end" fill="#555">20</text>
<line x1="613.90" y1="472.00" x2="615.40" y2="472.00" stroke="#888" stroke-width="0.5"/>
<text x="613.20" y="473.20" font-size="3.4" text-anchor="end" fill="#555">15</text>
<line x1="613.90" y1="500.60" x2="615.40" y2="500.60" stroke="#888" stroke-width="0.5"/>
<text x="613.20" y="501.80" font-size="3.4" text-anchor="end" fill="#555">10</text>
<text x="607.80" y="452.90" font-size="5.36" text-anchor="middle" textLength="34.00" lengthAdjust="spacingAndGlyphs" transform="rotate(-90 607.8 452.9)" fill="#333" stroke="#333" stroke-width="0.080">mg / g of liver</text>
<line x1="632.00" y1="527.30" x2="632.00" y2="528.80" stroke="#888" stroke-width="0.5"/>
<text x="632.00" y="534.70" font-size="5.15" text-anchor="middle" textLength="15.60" lengthAdjust="spacingAndGlyphs" fill="#444">PRE SD</text>
<line x1="662.10" y1="527.30" x2="662.10" y2="528.80" stroke="#888" stroke-width="0.5"/>
<text x="662.10" y="534.70" font-size="5.15" text-anchor="middle" textLength="18.20" lengthAdjust="spacingAndGlyphs" fill="#444">POST SD</text>
<line x1="693.60" y1="527.30" x2="693.60" y2="528.80" stroke="#888" stroke-width="0.5"/>
<text x="693.60" y="534.70" font-size="5.15" text-anchor="middle" textLength="18.20" lengthAdjust="spacingAndGlyphs" fill="#444">PRE HFD</text>
<line x1="723.80" y1="527.30" x2="723.80" y2="528.80" stroke="#888" stroke-width="0.5"/>
<text x="723.80" y="534.70" font-size="5.15" text-anchor="middle" textLength="20.80" lengthAdjust="spacingAndGlyphs" fill="#444">POST HFD</text>
<line x1="632.80" y1="452.40" x2="632.80" y2="483.10" stroke="#555" stroke-width="0.7"/>
<line x1="632.80" y1="507.50" x2="632.80" y2="513.70" stroke="#555" stroke-width="0.7"/>
<rect x="621.30" y="483.10" width="23.10" height="24.40" fill="none" stroke="#555" stroke-width="0.8"/>
<line x1="621.30" y1="498.00" x2="644.40" y2="498.00" stroke="#111" stroke-width="1.4"/>
<line x1="662.40" y1="501.20" x2="662.40" y2="506.20" stroke="#555" stroke-width="0.7"/>
<line x1="662.40" y1="513.30" x2="662.40" y2="516.30" stroke="#555" stroke-width="0.7"/>
<rect x="651.10" y="506.20" width="22.60" height="7.10" fill="none" stroke="#555" stroke-width="0.8"/>
<line x1="651.10" y1="510.10" x2="673.70" y2="510.10" stroke="#111" stroke-width="1.4"/>
<line x1="692.60" y1="385.10" x2="692.60" y2="434.00" stroke="#d4d4d4" stroke-width="0.8"/>
<line x1="692.60" y1="492.80" x2="692.60" y2="494.50" stroke="#d4d4d4" stroke-width="0.8"/>
<rect x="681.00" y="434.00" width="22.80" height="58.80" fill="none" stroke="#d4d4d4" stroke-width="0.8"/>
<line x1="681.00" y1="478.20" x2="703.80" y2="478.20" stroke="#c8c8c8" stroke-width="1.1"/>
<line x1="723.00" y1="480.50" x2="723.00" y2="488.00" stroke="#d4d4d4" stroke-width="0.8"/>
<line x1="723.00" y1="505.40" x2="723.00" y2="520.80" stroke="#d4d4d4" stroke-width="0.8"/>
<rect x="711.20" y="488.00" width="22.40" height="17.40" fill="none" stroke="#d4d4d4" stroke-width="0.8"/>
<line x1="711.20" y1="500.90" x2="733.60" y2="500.90" stroke="#c8c8c8" stroke-width="1.1"/>
<circle cx="631.1" cy="452.8" r="1.1" fill="#111"/>
<circle cx="632.8" cy="456.9" r="1.1" fill="#111"/>
<circle cx="632.8" cy="463.4" r="1.1" fill="#111"/>
<circle cx="632.8" cy="483.1" r="1.1" fill="#111"/>
<circle cx="633.2" cy="485.8" r="1.1" fill="#111"/>
<circle cx="635.5" cy="494.1" r="1.1" fill="#111"/>
<circle cx="632.8" cy="495.4" r="1.1" fill="#111"/>
<circle cx="631.1" cy="498.9" r="1.1" fill="#111"/>
<circle cx="634.6" cy="501.8" r="1.1" fill="#111"/>
<circle cx="630.5" cy="506.0" r="1.1" fill="#111"/>
<circle cx="635.0" cy="508.3" r="1.1" fill="#111"/>
<circle cx="632.0" cy="511.0" r="1.1" fill="#111"/>
<circle cx="634.3" cy="513.7" r="1.1" fill="#111"/>
<circle cx="630.2" cy="507.8" r="1.1" fill="#111"/>
<circle cx="659.5" cy="506.6" r="1.1" fill="#111"/>
<circle cx="662.1" cy="505.3" r="1.1" fill="#111"/>
<circle cx="663.9" cy="502.5" r="1.1" fill="#111"/>
<circle cx="665.7" cy="501.8" r="1.1" fill="#111"/>
<circle cx="660.4" cy="509.2" r="1.1" fill="#111"/>
<circle cx="663.0" cy="510.1" r="1.1" fill="#111"/>
<circle cx="661.2" cy="511.9" r="1.1" fill="#111"/>
<circle cx="664.8" cy="511.0" r="1.1" fill="#111"/>
<circle cx="662.1" cy="514.2" r="1.1" fill="#111"/>
<circle cx="660.4" cy="516.3" r="1.1" fill="#111"/>
<circle cx="658.6" cy="510.1" r="1.1" fill="#111"/>
<circle cx="666.0" cy="509.6" r="1.1" fill="#111"/>
<circle cx="663.6" cy="508.3" r="1.1" fill="#111"/>
<circle cx="692" cy="400" r="1.1" fill="#d8d8d8"/>
<circle cx="693" cy="417" r="1.1" fill="#d8d8d8"/>
<circle cx="696" cy="426" r="1.1" fill="#d8d8d8"/>
<circle cx="691" cy="443" r="1.1" fill="#d8d8d8"/>
<circle cx="694" cy="462" r="1.1" fill="#d8d8d8"/>
<circle cx="692" cy="478" r="1.1" fill="#d8d8d8"/>
<circle cx="697" cy="485" r="1.1" fill="#d8d8d8"/>
<circle cx="692" cy="490" r="1.1" fill="#d8d8d8"/>
<circle cx="721.5" cy="422" r="1.1" fill="#d8d8d8"/>
<circle cx="722" cy="481" r="1.1" fill="#d8d8d8"/>
<circle cx="724" cy="491" r="1.1" fill="#d8d8d8"/>
<circle cx="722" cy="495" r="1.1" fill="#d8d8d8"/>
<circle cx="725" cy="497" r="1.1" fill="#d8d8d8"/>
<circle cx="720" cy="503" r="1.1" fill="#d8d8d8"/>
<circle cx="723" cy="507" r="1.1" fill="#d8d8d8"/>
<line x1="632.00" y1="447.50" x2="660.90" y2="447.50" stroke="#333" stroke-width="1.2"/>
<text x="645.80" y="446.50" font-size="4.63" text-anchor="middle" fill="#555">*</text>
<line x1="692.20" y1="385.10" x2="720.60" y2="385.10" stroke="#333" stroke-width="1.4"/>
<text x="706.40" y="384.00" font-size="4.63" text-anchor="middle" fill="#555">*</text>
<text x="742.80" y="450.60" font-size="7.21" textLength="10.50" lengthAdjust="spacingAndGlyphs" fill="#444">Diet</text>
<rect x="741.20" y="456.30" width="7.80" height="6.40" fill="#fff" stroke="#222" stroke-width="0.8"/>
<line x1="745.10" y1="455.00" x2="745.10" y2="464.00" stroke="#222" stroke-width="0.6"/>
<circle cx="745.1" cy="459.5" r="1.3" fill="#111"/>
<rect x="741.20" y="467.50" width="7.80" height="6.00" fill="#fff" stroke="#d8d8d8" stroke-width="0.8"/>
<text x="752.60" y="461.80" font-size="5.15" textLength="6.20" lengthAdjust="spacingAndGlyphs" fill="#444">SD</text>
<text x="752.60" y="472.60" font-size="5.15" textLength="8.90" lengthAdjust="spacingAndGlyphs" fill="#444">HFD</text>
</svg>
</body></html>
